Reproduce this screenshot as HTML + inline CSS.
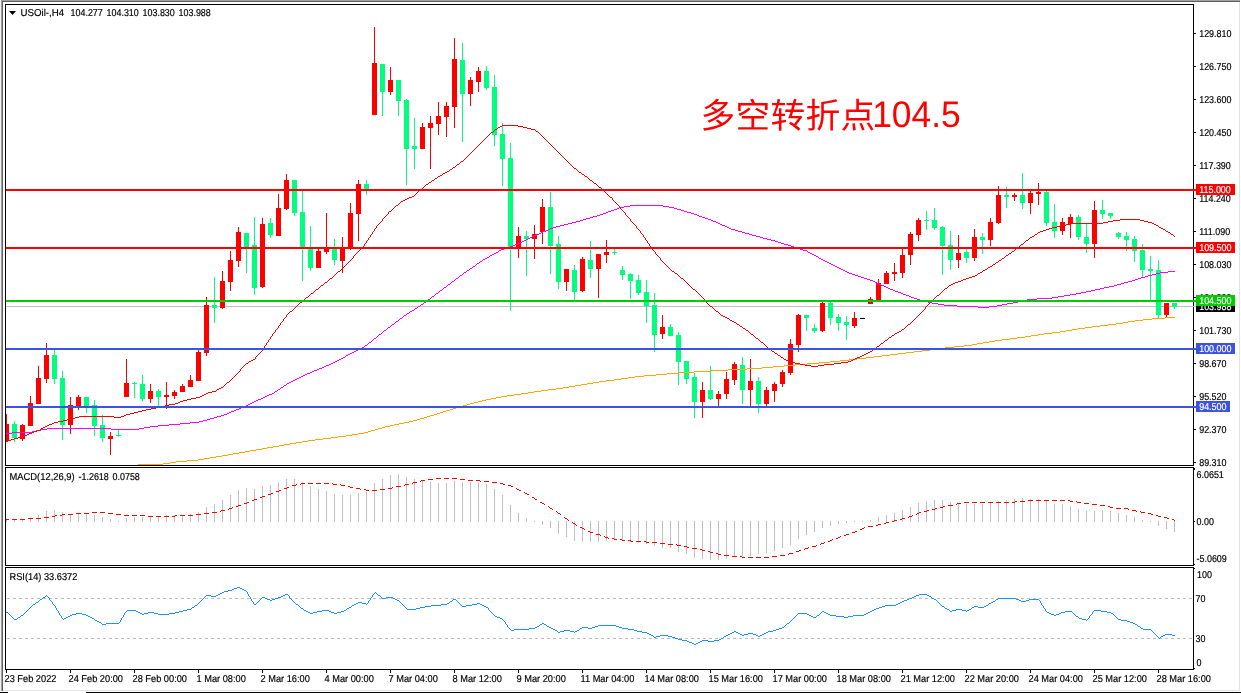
<!DOCTYPE html><html><head><meta charset="utf-8"><title>USOil H4</title><style>html,body{margin:0;padding:0;background:#fff;overflow:hidden}svg{display:block;will-change:transform}text{font-family:"Liberation Sans",sans-serif;text-rendering:geometricPrecision}</style></head><body>
<svg width="1241" height="693" viewBox="0 0 1241 693">
<rect width="1241" height="693" fill="#fff"/>
<g shape-rendering="crispEdges">
<rect x="0" y="0" width="1240" height="1" fill="#a0a0a0"/>
<rect x="1" y="1" width="1239" height="1" fill="#606060"/>
<rect x="0" y="0" width="1" height="691" fill="#f0f0f0"/>
<rect x="1" y="1" width="1" height="690" fill="#a0a0a0"/>
<rect x="2" y="1" width="1" height="690" fill="#606060"/>
<rect x="1239" y="2" width="1" height="689" fill="#e3e3e3"/>
<rect x="3" y="690" width="1237" height="1" fill="#e3e3e3"/>
<rect x="0" y="692" width="8" height="1" fill="#000"/>
<rect x="86" y="692" width="1155" height="1" fill="#000"/>
<rect x="5" y="4" width="1189" height="1" fill="#000"/>
<rect x="5" y="465" width="1189" height="1" fill="#000"/>
<rect x="5" y="4" width="1" height="462" fill="#000"/>
<rect x="1193" y="4" width="1" height="462" fill="#000"/>
<rect x="5" y="467" width="1189" height="1" fill="#000"/>
<rect x="5" y="565" width="1189" height="1" fill="#000"/>
<rect x="5" y="467" width="1" height="99" fill="#000"/>
<rect x="1193" y="467" width="1" height="99" fill="#000"/>
<rect x="5" y="567" width="1189" height="1" fill="#000"/>
<rect x="5" y="669" width="1189" height="1" fill="#000"/>
<rect x="5" y="567" width="1" height="103" fill="#000"/>
<rect x="1193" y="567" width="1" height="103" fill="#000"/>
<rect x="6" y="306" width="1190" height="1" fill="#c0c0c0"/>
<clipPath id="cm"><rect x="6" y="5" width="1187" height="460"/></clipPath>
<g clip-path="url(#cm)">
<rect x="6" y="414" width="1" height="27" fill="#ff0000"/>
<rect x="4" y="424" width="5" height="17" fill="#ff0000"/>
<rect x="14" y="421" width="1" height="21" fill="#00ff7f"/>
<rect x="12" y="424" width="5" height="14" fill="#00ff7f"/>
<rect x="22" y="424" width="1" height="17" fill="#ff0000"/>
<rect x="20" y="425" width="5" height="14" fill="#ff0000"/>
<rect x="30" y="396" width="1" height="30" fill="#ff0000"/>
<rect x="28" y="403" width="5" height="23" fill="#ff0000"/>
<rect x="38" y="366" width="1" height="38" fill="#ff0000"/>
<rect x="36" y="378" width="5" height="26" fill="#ff0000"/>
<rect x="46" y="343" width="1" height="40" fill="#ff0000"/>
<rect x="44" y="355" width="5" height="24" fill="#ff0000"/>
<rect x="54" y="350" width="1" height="34" fill="#00ff7f"/>
<rect x="52" y="355" width="5" height="24" fill="#00ff7f"/>
<rect x="62" y="371" width="1" height="69" fill="#00ff7f"/>
<rect x="60" y="378" width="5" height="47" fill="#00ff7f"/>
<rect x="70" y="397" width="1" height="37" fill="#ff0000"/>
<rect x="68" y="405" width="5" height="20" fill="#ff0000"/>
<rect x="78" y="395" width="1" height="15" fill="#ff0000"/>
<rect x="76" y="397" width="5" height="9" fill="#ff0000"/>
<rect x="86" y="397" width="1" height="16" fill="#00ff7f"/>
<rect x="84" y="397" width="5" height="9" fill="#00ff7f"/>
<rect x="94" y="400" width="1" height="36" fill="#00ff7f"/>
<rect x="92" y="405" width="5" height="21" fill="#00ff7f"/>
<rect x="102" y="415" width="1" height="27" fill="#00ff7f"/>
<rect x="100" y="425" width="5" height="13" fill="#00ff7f"/>
<rect x="110" y="432" width="1" height="23" fill="#ff0000"/>
<rect x="108" y="436" width="5" height="3" fill="#ff0000"/>
<rect x="118" y="430" width="1" height="7" fill="#00ff7f"/>
<rect x="116" y="435" width="5" height="1" fill="#00ff7f"/>
<rect x="126" y="359" width="1" height="38" fill="#ff0000"/>
<rect x="124" y="383" width="5" height="14" fill="#ff0000"/>
<rect x="134" y="382" width="1" height="16" fill="#00ff7f"/>
<rect x="132" y="383" width="5" height="1" fill="#00ff7f"/>
<rect x="142" y="375" width="1" height="26" fill="#00ff7f"/>
<rect x="140" y="384" width="5" height="15" fill="#00ff7f"/>
<rect x="150" y="384" width="1" height="19" fill="#ff0000"/>
<rect x="148" y="391" width="5" height="8" fill="#ff0000"/>
<rect x="158" y="389" width="1" height="17" fill="#00ff7f"/>
<rect x="156" y="391" width="5" height="6" fill="#00ff7f"/>
<rect x="166" y="382" width="1" height="27" fill="#ff0000"/>
<rect x="164" y="395" width="5" height="2" fill="#ff0000"/>
<rect x="174" y="390" width="1" height="9" fill="#ff0000"/>
<rect x="172" y="392" width="5" height="4" fill="#ff0000"/>
<rect x="182" y="384" width="1" height="8" fill="#ff0000"/>
<rect x="180" y="386" width="5" height="6" fill="#ff0000"/>
<rect x="190" y="375" width="1" height="12" fill="#ff0000"/>
<rect x="188" y="380" width="5" height="7" fill="#ff0000"/>
<rect x="198" y="350" width="1" height="31" fill="#ff0000"/>
<rect x="196" y="352" width="5" height="29" fill="#ff0000"/>
<rect x="206" y="297" width="1" height="59" fill="#ff0000"/>
<rect x="204" y="305" width="5" height="48" fill="#ff0000"/>
<rect x="214" y="277" width="1" height="46" fill="#00ff7f"/>
<rect x="212" y="305" width="5" height="3" fill="#00ff7f"/>
<rect x="222" y="271" width="1" height="38" fill="#ff0000"/>
<rect x="220" y="281" width="5" height="27" fill="#ff0000"/>
<rect x="230" y="251" width="1" height="40" fill="#ff0000"/>
<rect x="228" y="260" width="5" height="22" fill="#ff0000"/>
<rect x="238" y="227" width="1" height="40" fill="#ff0000"/>
<rect x="236" y="232" width="5" height="29" fill="#ff0000"/>
<rect x="246" y="233" width="1" height="40" fill="#00ff7f"/>
<rect x="244" y="233" width="5" height="14" fill="#00ff7f"/>
<rect x="254" y="217" width="1" height="78" fill="#00ff7f"/>
<rect x="252" y="245" width="5" height="43" fill="#00ff7f"/>
<rect x="262" y="218" width="1" height="70" fill="#ff0000"/>
<rect x="260" y="224" width="5" height="63" fill="#ff0000"/>
<rect x="270" y="218" width="1" height="20" fill="#00ff7f"/>
<rect x="268" y="223" width="5" height="12" fill="#00ff7f"/>
<rect x="278" y="194" width="1" height="42" fill="#ff0000"/>
<rect x="276" y="208" width="5" height="28" fill="#ff0000"/>
<rect x="286" y="174" width="1" height="36" fill="#ff0000"/>
<rect x="284" y="180" width="5" height="29" fill="#ff0000"/>
<rect x="294" y="180" width="1" height="36" fill="#00ff7f"/>
<rect x="292" y="180" width="5" height="33" fill="#00ff7f"/>
<rect x="302" y="191" width="1" height="90" fill="#00ff7f"/>
<rect x="300" y="212" width="5" height="35" fill="#00ff7f"/>
<rect x="310" y="226" width="1" height="45" fill="#00ff7f"/>
<rect x="308" y="249" width="5" height="19" fill="#00ff7f"/>
<rect x="318" y="249" width="1" height="19" fill="#ff0000"/>
<rect x="316" y="251" width="5" height="17" fill="#ff0000"/>
<rect x="326" y="213" width="1" height="41" fill="#ff0000"/>
<rect x="324" y="249" width="5" height="3" fill="#ff0000"/>
<rect x="334" y="239" width="1" height="26" fill="#00ff7f"/>
<rect x="332" y="249" width="5" height="11" fill="#00ff7f"/>
<rect x="342" y="237" width="1" height="36" fill="#ff0000"/>
<rect x="340" y="248" width="5" height="13" fill="#ff0000"/>
<rect x="350" y="203" width="1" height="47" fill="#ff0000"/>
<rect x="348" y="213" width="5" height="36" fill="#ff0000"/>
<rect x="358" y="180" width="1" height="61" fill="#ff0000"/>
<rect x="356" y="184" width="5" height="30" fill="#ff0000"/>
<rect x="366" y="180" width="1" height="15" fill="#00ff7f"/>
<rect x="364" y="184" width="5" height="7" fill="#00ff7f"/>
<rect x="374" y="27" width="1" height="88" fill="#ff0000"/>
<rect x="372" y="63" width="5" height="52" fill="#ff0000"/>
<rect x="382" y="64" width="1" height="52" fill="#00ff7f"/>
<rect x="380" y="64" width="5" height="28" fill="#00ff7f"/>
<rect x="390" y="67" width="1" height="28" fill="#ff0000"/>
<rect x="388" y="80" width="5" height="12" fill="#ff0000"/>
<rect x="398" y="80" width="1" height="36" fill="#00ff7f"/>
<rect x="396" y="80" width="5" height="21" fill="#00ff7f"/>
<rect x="406" y="99" width="1" height="86" fill="#00ff7f"/>
<rect x="404" y="100" width="5" height="49" fill="#00ff7f"/>
<rect x="414" y="118" width="1" height="51" fill="#00ff7f"/>
<rect x="412" y="146" width="5" height="3" fill="#00ff7f"/>
<rect x="422" y="123" width="1" height="26" fill="#ff0000"/>
<rect x="420" y="127" width="5" height="22" fill="#ff0000"/>
<rect x="430" y="116" width="1" height="53" fill="#ff0000"/>
<rect x="428" y="123" width="5" height="5" fill="#ff0000"/>
<rect x="438" y="102" width="1" height="33" fill="#ff0000"/>
<rect x="436" y="116" width="5" height="8" fill="#ff0000"/>
<rect x="446" y="102" width="1" height="35" fill="#ff0000"/>
<rect x="444" y="106" width="5" height="11" fill="#ff0000"/>
<rect x="454" y="38" width="1" height="90" fill="#ff0000"/>
<rect x="452" y="59" width="5" height="48" fill="#ff0000"/>
<rect x="462" y="43" width="1" height="99" fill="#00ff7f"/>
<rect x="460" y="60" width="5" height="34" fill="#00ff7f"/>
<rect x="470" y="77" width="1" height="29" fill="#ff0000"/>
<rect x="468" y="80" width="5" height="14" fill="#ff0000"/>
<rect x="478" y="67" width="1" height="25" fill="#ff0000"/>
<rect x="476" y="71" width="5" height="11" fill="#ff0000"/>
<rect x="486" y="66" width="1" height="24" fill="#00ff7f"/>
<rect x="484" y="71" width="5" height="17" fill="#00ff7f"/>
<rect x="494" y="75" width="1" height="71" fill="#00ff7f"/>
<rect x="492" y="87" width="5" height="48" fill="#00ff7f"/>
<rect x="502" y="123" width="1" height="63" fill="#00ff7f"/>
<rect x="500" y="134" width="5" height="25" fill="#00ff7f"/>
<rect x="510" y="143" width="1" height="168" fill="#00ff7f"/>
<rect x="508" y="158" width="5" height="89" fill="#00ff7f"/>
<rect x="518" y="227" width="1" height="31" fill="#ff0000"/>
<rect x="516" y="236" width="5" height="11" fill="#ff0000"/>
<rect x="526" y="231" width="1" height="45" fill="#00ff7f"/>
<rect x="524" y="236" width="5" height="3" fill="#00ff7f"/>
<rect x="534" y="225" width="1" height="34" fill="#ff0000"/>
<rect x="532" y="234" width="5" height="5" fill="#ff0000"/>
<rect x="542" y="199" width="1" height="45" fill="#ff0000"/>
<rect x="540" y="207" width="5" height="25" fill="#ff0000"/>
<rect x="550" y="192" width="1" height="82" fill="#00ff7f"/>
<rect x="548" y="207" width="5" height="39" fill="#00ff7f"/>
<rect x="558" y="236" width="1" height="53" fill="#00ff7f"/>
<rect x="556" y="244" width="5" height="38" fill="#00ff7f"/>
<rect x="566" y="269" width="1" height="22" fill="#ff0000"/>
<rect x="564" y="269" width="5" height="13" fill="#ff0000"/>
<rect x="574" y="265" width="1" height="35" fill="#00ff7f"/>
<rect x="572" y="270" width="5" height="22" fill="#00ff7f"/>
<rect x="582" y="257" width="1" height="35" fill="#ff0000"/>
<rect x="580" y="259" width="5" height="32" fill="#ff0000"/>
<rect x="590" y="241" width="1" height="37" fill="#00ff7f"/>
<rect x="588" y="260" width="5" height="9" fill="#00ff7f"/>
<rect x="598" y="254" width="1" height="44" fill="#ff0000"/>
<rect x="596" y="254" width="5" height="15" fill="#ff0000"/>
<rect x="606" y="240" width="1" height="23" fill="#ff0000"/>
<rect x="604" y="252" width="5" height="3" fill="#ff0000"/>
<rect x="614" y="249" width="1" height="6" fill="#00ff7f"/>
<rect x="612" y="252" width="5" height="1" fill="#00ff7f"/>
<rect x="622" y="266" width="1" height="14" fill="#00ff7f"/>
<rect x="620" y="270" width="5" height="5" fill="#00ff7f"/>
<rect x="630" y="273" width="1" height="26" fill="#00ff7f"/>
<rect x="628" y="274" width="5" height="7" fill="#00ff7f"/>
<rect x="638" y="275" width="1" height="20" fill="#00ff7f"/>
<rect x="636" y="280" width="5" height="13" fill="#00ff7f"/>
<rect x="646" y="280" width="1" height="43" fill="#00ff7f"/>
<rect x="644" y="292" width="5" height="14" fill="#00ff7f"/>
<rect x="654" y="293" width="1" height="59" fill="#00ff7f"/>
<rect x="652" y="305" width="5" height="30" fill="#00ff7f"/>
<rect x="662" y="315" width="1" height="24" fill="#ff0000"/>
<rect x="660" y="327" width="5" height="7" fill="#ff0000"/>
<rect x="670" y="324" width="1" height="12" fill="#00ff7f"/>
<rect x="668" y="327" width="5" height="9" fill="#00ff7f"/>
<rect x="678" y="332" width="1" height="53" fill="#00ff7f"/>
<rect x="676" y="335" width="5" height="27" fill="#00ff7f"/>
<rect x="686" y="361" width="1" height="23" fill="#00ff7f"/>
<rect x="684" y="361" width="5" height="18" fill="#00ff7f"/>
<rect x="694" y="373" width="1" height="45" fill="#00ff7f"/>
<rect x="692" y="377" width="5" height="25" fill="#00ff7f"/>
<rect x="702" y="382" width="1" height="36" fill="#ff0000"/>
<rect x="700" y="390" width="5" height="12" fill="#ff0000"/>
<rect x="710" y="366" width="1" height="34" fill="#00ff7f"/>
<rect x="708" y="390" width="5" height="9" fill="#00ff7f"/>
<rect x="718" y="391" width="1" height="15" fill="#ff0000"/>
<rect x="716" y="394" width="5" height="5" fill="#ff0000"/>
<rect x="726" y="372" width="1" height="27" fill="#ff0000"/>
<rect x="724" y="379" width="5" height="15" fill="#ff0000"/>
<rect x="734" y="362" width="1" height="23" fill="#ff0000"/>
<rect x="732" y="364" width="5" height="16" fill="#ff0000"/>
<rect x="742" y="357" width="1" height="47" fill="#00ff7f"/>
<rect x="740" y="365" width="5" height="25" fill="#00ff7f"/>
<rect x="750" y="359" width="1" height="48" fill="#ff0000"/>
<rect x="748" y="381" width="5" height="9" fill="#ff0000"/>
<rect x="758" y="377" width="1" height="36" fill="#00ff7f"/>
<rect x="756" y="381" width="5" height="23" fill="#00ff7f"/>
<rect x="766" y="387" width="1" height="19" fill="#ff0000"/>
<rect x="764" y="390" width="5" height="14" fill="#ff0000"/>
<rect x="774" y="382" width="1" height="20" fill="#ff0000"/>
<rect x="772" y="384" width="5" height="7" fill="#ff0000"/>
<rect x="782" y="370" width="1" height="17" fill="#ff0000"/>
<rect x="780" y="372" width="5" height="12" fill="#ff0000"/>
<rect x="790" y="339" width="1" height="36" fill="#ff0000"/>
<rect x="788" y="344" width="5" height="29" fill="#ff0000"/>
<rect x="798" y="314" width="1" height="38" fill="#ff0000"/>
<rect x="796" y="315" width="5" height="30" fill="#ff0000"/>
<rect x="806" y="315" width="1" height="16" fill="#00ff7f"/>
<rect x="804" y="315" width="5" height="3" fill="#00ff7f"/>
<rect x="814" y="324" width="1" height="9" fill="#00ff7f"/>
<rect x="812" y="328" width="5" height="3" fill="#00ff7f"/>
<rect x="822" y="302" width="1" height="30" fill="#ff0000"/>
<rect x="820" y="303" width="5" height="28" fill="#ff0000"/>
<rect x="830" y="302" width="1" height="23" fill="#00ff7f"/>
<rect x="828" y="303" width="5" height="15" fill="#00ff7f"/>
<rect x="838" y="314" width="1" height="17" fill="#00ff7f"/>
<rect x="836" y="317" width="5" height="6" fill="#00ff7f"/>
<rect x="846" y="316" width="1" height="24" fill="#00ff7f"/>
<rect x="844" y="322" width="5" height="3" fill="#00ff7f"/>
<rect x="854" y="312" width="1" height="16" fill="#ff0000"/>
<rect x="852" y="318" width="5" height="8" fill="#ff0000"/>
<rect x="862" y="318" width="1" height="1" fill="#000000"/>
<rect x="860" y="318" width="5" height="1" fill="#000000"/>
<rect x="870" y="297" width="1" height="7" fill="#ff0000"/>
<rect x="868" y="299" width="5" height="5" fill="#ff0000"/>
<rect x="878" y="279" width="1" height="21" fill="#ff0000"/>
<rect x="876" y="283" width="5" height="17" fill="#ff0000"/>
<rect x="886" y="271" width="1" height="13" fill="#ff0000"/>
<rect x="884" y="273" width="5" height="11" fill="#ff0000"/>
<rect x="894" y="263" width="1" height="18" fill="#ff0000"/>
<rect x="892" y="272" width="5" height="2" fill="#ff0000"/>
<rect x="902" y="248" width="1" height="30" fill="#ff0000"/>
<rect x="900" y="255" width="5" height="18" fill="#ff0000"/>
<rect x="910" y="232" width="1" height="33" fill="#ff0000"/>
<rect x="908" y="234" width="5" height="21" fill="#ff0000"/>
<rect x="918" y="218" width="1" height="23" fill="#ff0000"/>
<rect x="916" y="220" width="5" height="15" fill="#ff0000"/>
<rect x="926" y="211" width="1" height="19" fill="#00ff7f"/>
<rect x="924" y="220" width="5" height="1" fill="#00ff7f"/>
<rect x="934" y="208" width="1" height="22" fill="#00ff7f"/>
<rect x="932" y="220" width="5" height="8" fill="#00ff7f"/>
<rect x="942" y="226" width="1" height="49" fill="#00ff7f"/>
<rect x="940" y="227" width="5" height="19" fill="#00ff7f"/>
<rect x="950" y="231" width="1" height="39" fill="#00ff7f"/>
<rect x="948" y="245" width="5" height="15" fill="#00ff7f"/>
<rect x="958" y="235" width="1" height="33" fill="#ff0000"/>
<rect x="956" y="253" width="5" height="7" fill="#ff0000"/>
<rect x="966" y="249" width="1" height="14" fill="#00ff7f"/>
<rect x="964" y="252" width="5" height="6" fill="#00ff7f"/>
<rect x="974" y="229" width="1" height="32" fill="#ff0000"/>
<rect x="972" y="237" width="5" height="21" fill="#ff0000"/>
<rect x="982" y="233" width="1" height="21" fill="#00ff7f"/>
<rect x="980" y="237" width="5" height="3" fill="#00ff7f"/>
<rect x="990" y="218" width="1" height="28" fill="#ff0000"/>
<rect x="988" y="222" width="5" height="18" fill="#ff0000"/>
<rect x="998" y="186" width="1" height="38" fill="#ff0000"/>
<rect x="996" y="195" width="5" height="28" fill="#ff0000"/>
<rect x="1006" y="187" width="1" height="21" fill="#00ff7f"/>
<rect x="1004" y="195" width="5" height="2" fill="#00ff7f"/>
<rect x="1014" y="193" width="1" height="8" fill="#ff0000"/>
<rect x="1012" y="195" width="5" height="2" fill="#ff0000"/>
<rect x="1022" y="173" width="1" height="36" fill="#00ff7f"/>
<rect x="1020" y="195" width="5" height="8" fill="#00ff7f"/>
<rect x="1030" y="190" width="1" height="24" fill="#ff0000"/>
<rect x="1028" y="193" width="5" height="10" fill="#ff0000"/>
<rect x="1038" y="183" width="1" height="22" fill="#ff0000"/>
<rect x="1036" y="192" width="5" height="2" fill="#ff0000"/>
<rect x="1046" y="190" width="1" height="36" fill="#00ff7f"/>
<rect x="1044" y="192" width="5" height="31" fill="#00ff7f"/>
<rect x="1054" y="204" width="1" height="34" fill="#00ff7f"/>
<rect x="1052" y="222" width="5" height="9" fill="#00ff7f"/>
<rect x="1062" y="218" width="1" height="17" fill="#ff0000"/>
<rect x="1060" y="222" width="5" height="9" fill="#ff0000"/>
<rect x="1070" y="214" width="1" height="24" fill="#ff0000"/>
<rect x="1068" y="217" width="5" height="7" fill="#ff0000"/>
<rect x="1078" y="215" width="1" height="25" fill="#00ff7f"/>
<rect x="1076" y="217" width="5" height="20" fill="#00ff7f"/>
<rect x="1086" y="223" width="1" height="30" fill="#00ff7f"/>
<rect x="1084" y="237" width="5" height="7" fill="#00ff7f"/>
<rect x="1094" y="201" width="1" height="57" fill="#ff0000"/>
<rect x="1092" y="210" width="5" height="34" fill="#ff0000"/>
<rect x="1102" y="200" width="1" height="19" fill="#00ff7f"/>
<rect x="1100" y="210" width="5" height="4" fill="#00ff7f"/>
<rect x="1110" y="213" width="1" height="6" fill="#00ff7f"/>
<rect x="1108" y="213" width="5" height="3" fill="#00ff7f"/>
<rect x="1118" y="232" width="1" height="7" fill="#00ff7f"/>
<rect x="1116" y="233" width="5" height="4" fill="#00ff7f"/>
<rect x="1126" y="232" width="1" height="19" fill="#00ff7f"/>
<rect x="1124" y="236" width="5" height="4" fill="#00ff7f"/>
<rect x="1134" y="236" width="1" height="26" fill="#00ff7f"/>
<rect x="1132" y="239" width="5" height="12" fill="#00ff7f"/>
<rect x="1142" y="244" width="1" height="33" fill="#00ff7f"/>
<rect x="1140" y="250" width="5" height="20" fill="#00ff7f"/>
<rect x="1150" y="256" width="1" height="44" fill="#00ff7f"/>
<rect x="1148" y="269" width="5" height="2" fill="#00ff7f"/>
<rect x="1158" y="260" width="1" height="59" fill="#00ff7f"/>
<rect x="1156" y="270" width="5" height="45" fill="#00ff7f"/>
<rect x="1166" y="303" width="1" height="15" fill="#ff0000"/>
<rect x="1164" y="303" width="5" height="12" fill="#ff0000"/>
<rect x="1174" y="303" width="1" height="6" fill="#00ff7f"/>
<rect x="1172" y="303" width="5" height="4" fill="#00ff7f"/>
</g>
</g>
<g clip-path="url(#cm)" shape-rendering="crispEdges">
<path d="M137 465h1v1h-1zM138 464h25v1h-25zM163 463h7v1h-7zM170 462h6v1h-6zM176 461h11v1h-11zM187 460h11v1h-11zM198 459h6v1h-6zM204 458h6v1h-6zM210 457h6v1h-6zM216 456h6v1h-6zM222 455h6v1h-6zM228 454h5v1h-5zM233 453h6v1h-6zM239 452h6v1h-6zM245 451h5v1h-5zM250 450h6v1h-6zM256 449h6v1h-6zM262 448h5v1h-5zM267 447h6v1h-6zM273 446h6v1h-6zM279 445h5v1h-5zM284 444h6v1h-6zM290 443h6v1h-6zM296 442h6v1h-6zM302 441h6v1h-6zM308 440h7v1h-7zM315 439h8v1h-8zM323 438h8v1h-8zM331 437h7v1h-7zM338 436h8v1h-8zM346 435h6v1h-6zM352 434h6v1h-6zM358 433h6v1h-6zM364 432h4v1h-4zM368 431h3v1h-3zM371 430h4v1h-4zM375 429h3v1h-3zM378 428h4v1h-4zM382 427h3v1h-3zM385 426h5v1h-5zM390 425h4v1h-4zM394 424h5v1h-5zM399 423h5v1h-5zM404 422h5v1h-5zM409 421h4v1h-4zM413 420h4v1h-4zM417 419h3v1h-3zM420 418h4v1h-4zM424 417h3v1h-3zM427 416h3v1h-3zM430 415h4v1h-4zM434 414h3v1h-3zM437 413h3v1h-3zM440 412h3v1h-3zM443 411h3v1h-3zM446 410h4v1h-4zM450 409h3v1h-3zM453 408h3v1h-3zM456 407h3v1h-3zM459 406h4v1h-4zM463 405h4v1h-4zM467 404h3v1h-3zM470 403h4v1h-4zM474 402h4v1h-4zM478 401h4v1h-4zM482 400h4v1h-4zM486 399h5v1h-5zM491 398h5v1h-5zM496 397h5v1h-5zM501 396h6v1h-6zM507 395h7v1h-7zM514 394h7v1h-7zM521 393h7v1h-7zM528 392h6v1h-6zM534 391h7v1h-7zM541 390h7v1h-7zM548 389h8v1h-8zM556 388h7v1h-7zM563 387h6v1h-6zM569 386h6v1h-6zM575 385h6v1h-6zM581 384h6v1h-6zM587 383h6v1h-6zM593 382h6v1h-6zM599 381h7v1h-7zM606 380h8v1h-8zM614 379h7v1h-7zM621 378h7v1h-7zM628 377h7v1h-7zM635 376h9v1h-9zM644 375h12v1h-12zM656 374h11v1h-11zM667 373h11v1h-11zM678 372h16v1h-16zM694 371h16v1h-16zM710 370h18v1h-18zM728 369h19v1h-19zM747 368h15v1h-15zM762 367h11v1h-11zM773 366h11v1h-11zM784 365h11v1h-11zM795 364h12v1h-12zM807 363h12v1h-12zM819 362h11v1h-11zM830 361h10v1h-10zM840 360h9v1h-9zM849 359h8v1h-8zM857 358h9v1h-9zM866 357h8v1h-8zM874 356h8v1h-8zM882 355h8v1h-8zM890 354h8v1h-8zM898 353h8v1h-8zM906 352h8v1h-8zM914 351h8v1h-8zM922 350h8v1h-8zM930 349h7v1h-7zM937 348h8v1h-8zM945 347h9v1h-9zM954 346h10v1h-10zM964 345h8v1h-8zM972 344h5v1h-5zM977 343h6v1h-6zM983 342h6v1h-6zM989 341h6v1h-6zM995 340h7v1h-7zM1002 339h8v1h-8zM1010 338h7v1h-7zM1017 337h8v1h-8zM1025 336h6v1h-6zM1031 335h7v1h-7zM1038 334h6v1h-6zM1044 333h8v1h-8zM1052 332h8v1h-8zM1060 331h6v1h-6zM1066 330h6v1h-6zM1072 329h6v1h-6zM1078 328h7v1h-7zM1085 327h7v1h-7zM1092 326h8v1h-8zM1100 325h8v1h-8zM1108 324h8v1h-8zM1116 323h7v1h-7zM1123 322h5v1h-5zM1128 321h7v1h-7zM1135 320h8v1h-8zM1143 319h9v1h-9zM1152 318h13v1h-13zM1165 317h10v1h-10z" fill="#ffa500" />
<path d="M6 433h6v1h-6zM12 432h20v1h-20zM32 431h4v1h-4zM36 430h5v1h-5zM41 429h6v1h-6zM47 428h64v1h-64zM111 429h28v1h-28zM139 428h5v1h-5zM144 427h6v1h-6zM150 426h8v1h-8zM158 425h11v1h-11zM169 424h11v1h-11zM180 423h10v1h-10zM190 422h9v1h-9zM199 421h4v1h-4zM203 420h4v1h-4zM207 419h3v1h-3zM210 418h4v1h-4zM214 417h3v1h-3zM217 416h4v1h-4zM221 415h3v1h-3zM224 414h3v1h-3zM227 413h2v1h-2zM229 412h2v1h-2zM231 411h3v1h-3zM234 410h2v1h-2zM236 409h3v1h-3zM239 408h2v1h-2zM241 407h2v1h-2zM243 406h3v1h-3zM246 405h2v1h-2zM248 404h2v1h-2zM250 403h2v1h-2zM252 402h2v1h-2zM254 401h2v1h-2zM256 400h2v1h-2zM258 399h3v1h-3zM261 398h2v1h-2zM263 397h2v1h-2zM265 396h2v1h-2zM267 395h2v1h-2zM269 394h3v1h-3zM272 393h2v1h-2zM274 392h1v1h-1zM275 391h2v1h-2zM277 390h1v1h-1zM278 389h2v1h-2zM280 388h1v1h-1zM281 387h2v1h-2zM283 386h1v1h-1zM284 385h2v1h-2zM286 384h1v1h-1zM287 383h2v1h-2zM289 382h2v1h-2zM291 381h2v1h-2zM293 380h2v1h-2zM295 379h2v1h-2zM297 378h2v1h-2zM299 377h2v1h-2zM301 376h2v1h-2zM303 375h2v1h-2zM305 374h2v1h-2zM307 373h3v1h-3zM310 372h2v1h-2zM312 371h2v1h-2zM314 370h3v1h-3zM317 369h2v1h-2zM319 368h3v1h-3zM322 367h2v1h-2zM324 366h2v1h-2zM326 365h3v1h-3zM329 364h2v1h-2zM331 363h2v1h-2zM333 362h2v1h-2zM335 361h2v1h-2zM337 360h2v1h-2zM339 359h2v1h-2zM341 358h2v1h-2zM343 357h2v1h-2zM345 356h1v1h-1zM346 355h2v1h-2zM348 354h2v1h-2zM350 353h2v1h-2zM352 352h2v1h-2zM354 351h2v1h-2zM356 350h2v1h-2zM358 349h2v1h-2zM360 348h2v1h-2zM362 347h2v1h-2zM364 346h1v1h-1zM365 345h2v1h-2zM367 344h1v1h-1zM368 343h1v1h-1zM369 342h2v1h-2zM371 341h1v1h-1zM372 340h1v1h-1zM373 339h1v1h-1zM374 338h2v1h-2zM376 337h1v1h-1zM377 336h1v1h-1zM378 335h1v1h-1zM379 334h2v1h-2zM381 333h1v1h-1zM382 332h1v1h-1zM383 331h1v1h-1zM384 330h2v1h-2zM386 329h1v1h-1zM387 328h1v1h-1zM388 327h2v1h-2zM390 326h1v1h-1zM391 325h1v1h-1zM392 324h2v1h-2zM394 323h1v1h-1zM395 322h1v1h-1zM396 321h2v1h-2zM398 320h1v1h-1zM399 319h1v1h-1zM400 318h2v1h-2zM402 317h1v1h-1zM403 316h1v1h-1zM404 315h2v1h-2zM406 314h1v1h-1zM407 313h2v1h-2zM409 312h1v1h-1zM410 311h2v1h-2zM412 310h2v1h-2zM414 309h1v1h-1zM415 308h2v1h-2zM417 307h1v1h-1zM418 306h2v1h-2zM420 305h1v1h-1zM421 304h2v1h-2zM423 303h1v1h-1zM424 302h2v1h-2zM426 301h1v1h-1zM427 300h1v1h-1zM428 299h2v1h-2zM430 298h1v1h-1zM431 297h1v1h-1zM432 296h2v1h-2zM434 295h1v1h-1zM435 294h1v1h-1zM436 293h2v1h-2zM438 292h1v1h-1zM439 291h1v1h-1zM440 290h2v1h-2zM442 289h1v1h-1zM443 288h1v1h-1zM444 287h2v1h-2zM446 286h1v1h-1zM447 285h1v1h-1zM448 284h2v1h-2zM450 283h1v1h-1zM451 282h1v1h-1zM452 281h2v1h-2zM454 280h1v1h-1zM455 279h1v1h-1zM456 278h2v1h-2zM458 277h1v1h-1zM459 276h1v1h-1zM460 275h2v1h-2zM462 274h1v1h-1zM463 273h1v1h-1zM464 272h2v1h-2zM466 271h1v1h-1zM467 270h2v1h-2zM469 269h1v1h-1zM470 268h2v1h-2zM472 267h1v1h-1zM473 266h2v1h-2zM475 265h1v1h-1zM476 264h1v1h-1zM477 263h2v1h-2zM479 262h1v1h-1zM480 261h2v1h-2zM482 260h1v1h-1zM483 259h2v1h-2zM485 258h2v1h-2zM487 257h2v1h-2zM489 256h1v1h-1zM490 255h2v1h-2zM492 254h2v1h-2zM494 253h2v1h-2zM496 252h2v1h-2zM498 251h1v1h-1zM499 250h2v1h-2zM501 249h3v1h-3zM504 248h3v1h-3zM507 247h3v1h-3zM510 246h3v1h-3zM513 245h2v1h-2zM515 244h3v1h-3zM518 243h2v1h-2zM520 242h2v1h-2zM522 241h2v1h-2zM524 240h2v1h-2zM526 239h2v1h-2zM528 238h2v1h-2zM530 237h2v1h-2zM532 236h2v1h-2zM534 235h3v1h-3zM537 234h2v1h-2zM539 233h2v1h-2zM541 232h2v1h-2zM543 231h3v1h-3zM546 230h2v1h-2zM548 229h2v1h-2zM550 228h3v1h-3zM553 227h3v1h-3zM556 226h4v1h-4zM560 225h4v1h-4zM564 224h4v1h-4zM568 223h4v1h-4zM572 222h4v1h-4zM576 221h4v1h-4zM580 220h3v1h-3zM583 219h3v1h-3zM586 218h4v1h-4zM590 217h3v1h-3zM593 216h4v1h-4zM597 215h3v1h-3zM600 214h3v1h-3zM603 213h3v1h-3zM606 212h2v1h-2zM608 211h3v1h-3zM611 210h3v1h-3zM614 209h3v1h-3zM617 208h2v1h-2zM619 207h5v1h-5zM624 206h6v1h-6zM630 205h33v1h-33zM663 206h6v1h-6zM669 207h5v1h-5zM674 208h3v1h-3zM677 209h4v1h-4zM681 210h3v1h-3zM684 211h3v1h-3zM687 212h4v1h-4zM691 213h3v1h-3zM694 214h3v1h-3zM697 215h2v1h-2zM699 216h3v1h-3zM702 217h3v1h-3zM705 218h3v1h-3zM708 219h3v1h-3zM711 220h2v1h-2zM713 221h3v1h-3zM716 222h2v1h-2zM718 223h2v1h-2zM720 224h2v1h-2zM722 225h3v1h-3zM725 226h2v1h-2zM727 227h2v1h-2zM729 228h2v1h-2zM731 229h4v1h-4zM735 230h3v1h-3zM738 231h4v1h-4zM742 232h3v1h-3zM745 233h4v1h-4zM749 234h3v1h-3zM752 235h4v1h-4zM756 236h4v1h-4zM760 237h3v1h-3zM763 238h4v1h-4zM767 239h4v1h-4zM771 240h4v1h-4zM775 241h3v1h-3zM778 242h3v1h-3zM781 243h3v1h-3zM784 244h4v1h-4zM788 245h3v1h-3zM791 246h3v1h-3zM794 247h3v1h-3zM797 248h3v1h-3zM800 249h3v1h-3zM803 250h4v1h-4zM807 251h1v1h-1zM808 252h2v1h-2zM810 253h2v1h-2zM812 254h2v1h-2zM814 255h2v1h-2zM816 256h2v1h-2zM818 257h1v1h-1zM819 258h2v1h-2zM821 259h2v1h-2zM823 260h2v1h-2zM825 261h2v1h-2zM827 262h2v1h-2zM829 263h2v1h-2zM831 264h2v1h-2zM833 265h2v1h-2zM835 266h2v1h-2zM837 267h2v1h-2zM839 268h2v1h-2zM841 269h2v1h-2zM843 270h2v1h-2zM845 271h2v1h-2zM847 272h2v1h-2zM849 273h3v1h-3zM852 274h3v1h-3zM855 275h3v1h-3zM858 276h3v1h-3zM861 277h3v1h-3zM864 278h3v1h-3zM867 279h3v1h-3zM870 280h3v1h-3zM873 281h2v1h-2zM875 282h2v1h-2zM877 283h2v1h-2zM879 284h2v1h-2zM881 285h3v1h-3zM884 286h2v1h-2zM886 287h2v1h-2zM888 288h2v1h-2zM890 289h3v1h-3zM893 290h2v1h-2zM895 291h3v1h-3zM898 292h3v1h-3zM901 293h2v1h-2zM903 294h3v1h-3zM906 295h3v1h-3zM909 296h2v1h-2zM911 297h3v1h-3zM914 298h3v1h-3zM917 299h3v1h-3zM920 300h4v1h-4zM924 301h4v1h-4zM928 302h4v1h-4zM932 303h6v1h-6zM938 304h6v1h-6zM944 305h13v1h-13zM957 306h21v1h-21zM978 307h11v1h-11zM989 306h8v1h-8zM997 305h5v1h-5zM1002 304h5v1h-5zM1007 303h6v1h-6zM1013 302h5v1h-5zM1018 301h5v1h-5zM1023 300h4v1h-4zM1027 299h10v1h-10zM1037 298h15v1h-15zM1052 297h6v1h-6zM1058 296h6v1h-6zM1064 295h6v1h-6zM1070 294h6v1h-6zM1076 293h5v1h-5zM1081 292h5v1h-5zM1086 291h5v1h-5zM1091 290h4v1h-4zM1095 289h5v1h-5zM1100 288h4v1h-4zM1104 287h5v1h-5zM1109 286h5v1h-5zM1114 285h3v1h-3zM1117 284h4v1h-4zM1121 283h3v1h-3zM1124 282h4v1h-4zM1128 281h4v1h-4zM1132 280h3v1h-3zM1135 279h3v1h-3zM1138 278h3v1h-3zM1141 277h4v1h-4zM1145 276h3v1h-3zM1148 275h4v1h-4zM1152 274h4v1h-4zM1156 273h4v1h-4zM1160 272h8v1h-8zM1168 271h7v1h-7z" fill="#ff00ff" />
<path d="M6 441h2v1h-2zM8 440h3v1h-3zM11 439h3v1h-3zM14 438h4v1h-4zM18 437h4v1h-4zM22 436h3v1h-3zM25 435h2v1h-2zM27 434h2v1h-2zM29 433h3v1h-3zM32 432h2v1h-2zM34 431h3v1h-3zM37 430h3v1h-3zM40 429h1v1h-1zM41 428h2v1h-2zM43 427h2v1h-2zM45 426h2v1h-2zM47 425h2v1h-2zM49 424h3v1h-3zM52 423h2v1h-2zM54 422h4v1h-4zM58 421h5v1h-5zM63 420h4v1h-4zM67 419h5v1h-5zM72 418h3v1h-3zM75 417h4v1h-4zM79 416h35v1h-35zM114 417h7v1h-7zM121 416h3v1h-3zM124 415h2v1h-2zM126 414h4v1h-4zM130 413h4v1h-4zM134 412h4v1h-4zM138 411h4v1h-4zM142 410h4v1h-4zM146 409h5v1h-5zM151 408h5v1h-5zM156 407h5v1h-5zM161 406h4v1h-4zM165 405h4v1h-4zM169 404h6v1h-6zM175 403h3v1h-3zM178 402h2v1h-2zM180 401h3v1h-3zM183 400h4v1h-4zM187 399h4v1h-4zM191 398h5v1h-5zM196 397h4v1h-4zM200 396h2v1h-2zM202 395h2v1h-2zM204 394h2v1h-2zM206 393h2v1h-2zM208 392h4v1h-4zM212 391h4v1h-4zM216 390h1v1h-1zM217 389h2v1h-2zM219 388h2v1h-2zM221 387h2v1h-2zM223 386h1v1h-1zM224 385h1v1h-1zM225 384h1v1h-1zM226 383h1v1h-1zM227 382h2v1h-2zM229 381h1v1h-1zM230 380h1v1h-1zM231 379h1v1h-1zM232 378h1v1h-1zM233 377h1v1h-1zM234 376h1v1h-1zM235 375h1v1h-1zM236 374h1v1h-1zM237 373h1v1h-1zM238 372h1v1h-1zM239 371h1v1h-1zM240 369h1v2h-1zM241 368h1v1h-1zM242 367h1v1h-1zM243 366h1v1h-1zM244 365h1v1h-1zM245 364h1v1h-1zM246 363h2v1h-2zM248 362h1v1h-1zM249 361h2v1h-2zM251 360h2v1h-2zM253 359h2v1h-2zM255 357h1v2h-1zM256 356h1v1h-1zM257 355h1v1h-1zM258 354h1v1h-1zM259 353h1v1h-1zM260 352h1v1h-1zM261 351h1v1h-1zM262 349h1v2h-1zM263 348h1v1h-1zM264 346h1v2h-1zM265 345h1v1h-1zM266 343h1v2h-1zM267 342h1v1h-1zM268 340h1v2h-1zM269 339h1v1h-1zM270 337h1v2h-1zM271 336h1v1h-1zM272 334h1v2h-1zM273 333h1v1h-1zM274 332h1v1h-1zM275 330h1v2h-1zM276 329h1v1h-1zM277 328h1v1h-1zM278 326h1v2h-1zM279 325h1v1h-1zM280 323h1v2h-1zM281 322h1v1h-1zM282 321h1v1h-1zM283 319h1v2h-1zM284 318h1v1h-1zM285 317h1v1h-1zM286 315h1v2h-1zM287 314h1v1h-1zM288 313h1v1h-1zM289 312h1v1h-1zM290 311h2v1h-2zM292 310h1v1h-1zM293 309h1v1h-1zM294 308h1v1h-1zM295 307h1v1h-1zM296 306h1v1h-1zM297 305h1v1h-1zM298 304h1v1h-1zM299 303h1v1h-1zM300 302h2v1h-2zM302 301h1v1h-1zM303 300h1v1h-1zM304 299h1v1h-1zM305 298h1v1h-1zM306 297h2v1h-2zM308 296h1v1h-1zM309 295h1v1h-1zM310 294h1v1h-1zM311 293h2v1h-2zM313 292h1v1h-1zM314 291h1v1h-1zM315 290h1v1h-1zM316 289h2v1h-2zM318 288h1v1h-1zM319 287h1v1h-1zM320 286h1v1h-1zM321 285h2v1h-2zM323 284h1v1h-1zM324 283h1v1h-1zM325 282h2v1h-2zM327 281h1v1h-1zM328 280h1v1h-1zM329 279h1v1h-1zM330 278h2v1h-2zM332 277h1v1h-1zM333 276h1v1h-1zM334 275h1v1h-1zM335 274h1v1h-1zM336 273h1v1h-1zM337 272h1v1h-1zM338 271h2v1h-2zM340 270h1v1h-1zM341 269h1v1h-1zM342 268h1v1h-1zM343 267h1v1h-1zM344 266h1v1h-1zM345 265h1v1h-1zM346 264h1v1h-1zM347 263h1v1h-1zM348 262h1v1h-1zM349 261h1v1h-1zM350 260h1v1h-1zM351 259h1v1h-1zM352 258h1v1h-1zM353 256h1v2h-1zM354 255h1v1h-1zM355 254h1v1h-1zM356 253h1v1h-1zM357 252h1v1h-1zM358 251h1v1h-1zM359 250h1v1h-1zM360 249h1v1h-1zM361 248h1v1h-1zM362 247h1v1h-1zM363 246h1v1h-1zM364 244h1v2h-1zM365 243h1v1h-1zM366 241h1v2h-1zM367 240h1v1h-1zM368 238h1v2h-1zM369 237h1v1h-1zM370 235h1v2h-1zM371 234h1v1h-1zM372 232h1v2h-1zM373 231h1v1h-1zM374 229h1v2h-1zM375 228h1v1h-1zM376 226h1v2h-1zM377 225h1v1h-1zM378 224h1v1h-1zM379 223h1v1h-1zM380 222h1v1h-1zM381 221h1v1h-1zM382 219h1v2h-1zM383 218h1v1h-1zM384 217h1v1h-1zM385 216h1v1h-1zM386 215h1v1h-1zM387 214h1v1h-1zM388 212h1v2h-1zM389 211h2v1h-2zM391 210h1v1h-1zM392 209h1v1h-1zM393 208h1v1h-1zM394 207h1v1h-1zM395 206h1v1h-1zM396 205h2v1h-2zM398 204h1v1h-1zM399 203h1v1h-1zM400 202h1v1h-1zM401 201h2v1h-2zM403 200h2v1h-2zM405 199h2v1h-2zM407 198h2v1h-2zM409 197h3v1h-3zM412 196h2v1h-2zM414 195h1v1h-1zM415 194h1v1h-1zM416 193h1v1h-1zM417 192h1v1h-1zM418 191h1v1h-1zM419 190h1v1h-1zM420 189h2v1h-2zM422 188h1v1h-1zM423 187h1v1h-1zM424 186h1v1h-1zM425 185h1v1h-1zM426 184h2v1h-2zM428 183h1v1h-1zM429 182h2v1h-2zM431 181h1v1h-1zM432 180h2v1h-2zM434 179h1v1h-1zM435 178h2v1h-2zM437 177h1v1h-1zM438 176h2v1h-2zM440 175h2v1h-2zM442 174h1v1h-1zM443 173h2v1h-2zM445 172h2v1h-2zM447 171h2v1h-2zM449 170h1v1h-1zM450 169h2v1h-2zM452 168h1v1h-1zM453 167h2v1h-2zM455 166h1v1h-1zM456 165h1v1h-1zM457 164h2v1h-2zM459 163h1v1h-1zM460 162h1v1h-1zM461 161h2v1h-2zM463 160h1v1h-1zM464 159h1v1h-1zM465 158h1v1h-1zM466 157h1v1h-1zM467 156h1v1h-1zM468 155h1v1h-1zM469 154h1v1h-1zM470 153h1v1h-1zM471 152h1v1h-1zM472 151h1v1h-1zM473 150h1v1h-1zM474 149h1v1h-1zM475 148h1v1h-1zM476 147h1v1h-1zM477 146h1v1h-1zM478 145h1v1h-1zM479 144h1v1h-1zM480 143h1v1h-1zM481 142h1v1h-1zM482 141h1v1h-1zM483 140h1v1h-1zM484 139h1v1h-1zM485 138h1v1h-1zM486 137h1v1h-1zM487 136h1v1h-1zM488 135h1v1h-1zM489 134h1v1h-1zM490 133h1v1h-1zM491 132h2v1h-2zM493 131h1v1h-1zM494 130h1v1h-1zM495 129h2v1h-2zM497 128h1v1h-1zM498 127h2v1h-2zM500 126h2v1h-2zM502 125h16v1h-16zM518 126h5v1h-5zM523 127h4v1h-4zM527 128h4v1h-4zM531 129h4v1h-4zM535 130h1v1h-1zM536 131h2v1h-2zM538 132h1v1h-1zM539 133h1v1h-1zM540 134h1v1h-1zM541 135h1v1h-1zM542 136h1v1h-1zM543 137h1v1h-1zM544 138h1v1h-1zM545 139h1v1h-1zM546 140h1v1h-1zM547 141h1v1h-1zM548 142h1v1h-1zM549 143h1v1h-1zM550 144h1v1h-1zM551 145h1v1h-1zM552 146h1v1h-1zM553 147h1v1h-1zM554 148h1v1h-1zM555 149h1v1h-1zM556 150h1v1h-1zM557 151h1v1h-1zM558 152h1v1h-1zM559 153h1v1h-1zM560 154h1v1h-1zM561 155h1v1h-1zM562 156h1v1h-1zM563 157h1v1h-1zM564 158h1v1h-1zM565 159h1v1h-1zM566 160h1v1h-1zM567 161h1v1h-1zM568 162h1v1h-1zM569 163h1v1h-1zM570 164h1v1h-1zM571 165h1v1h-1zM572 166h1v1h-1zM573 167h1v1h-1zM574 168h2v1h-2zM576 169h1v1h-1zM577 170h1v1h-1zM578 171h1v1h-1zM579 172h2v1h-2zM581 173h1v1h-1zM582 174h2v1h-2zM584 175h1v1h-1zM585 176h2v1h-2zM587 177h1v1h-1zM588 178h1v1h-1zM589 179h1v1h-1zM590 180h2v1h-2zM592 181h1v1h-1zM593 182h1v1h-1zM594 183h2v1h-2zM596 184h1v1h-1zM597 185h1v1h-1zM598 186h1v1h-1zM599 187h2v1h-2zM601 188h1v1h-1zM602 189h1v1h-1zM603 190h1v1h-1zM604 191h1v1h-1zM605 192h1v1h-1zM606 193h1v1h-1zM607 194h1v1h-1zM608 195h1v1h-1zM609 196h1v1h-1zM610 197h2v1h-2zM612 198h1v2h-1zM613 200h1v1h-1zM614 201h1v1h-1zM615 202h1v1h-1zM616 203h1v1h-1zM617 204h1v1h-1zM618 205h1v1h-1zM619 206h1v1h-1zM620 207h1v2h-1zM621 209h1v1h-1zM622 210h1v1h-1zM623 211h1v1h-1zM624 212h1v1h-1zM625 213h1v2h-1zM626 215h1v1h-1zM627 216h1v1h-1zM628 217h1v1h-1zM629 218h1v1h-1zM630 219h1v2h-1zM631 221h1v1h-1zM632 222h1v1h-1zM633 223h1v1h-1zM634 224h1v1h-1zM635 225h1v1h-1zM636 226h1v2h-1zM637 228h1v1h-1zM638 229h1v1h-1zM639 230h1v1h-1zM640 231h1v2h-1zM641 233h1v1h-1zM642 234h1v1h-1zM643 235h1v2h-1zM644 237h1v1h-1zM645 238h1v2h-1zM646 240h1v1h-1zM647 241h1v2h-1zM648 243h1v1h-1zM649 244h1v2h-1zM650 246h1v1h-1zM651 247h1v2h-1zM652 249h1v1h-1zM653 250h1v1h-1zM654 251h1v1h-1zM655 252h1v2h-1zM656 254h1v1h-1zM657 255h1v1h-1zM658 256h1v1h-1zM659 257h1v1h-1zM660 258h1v2h-1zM661 260h1v1h-1zM662 261h1v1h-1zM663 262h1v1h-1zM664 263h1v1h-1zM665 264h1v1h-1zM666 265h1v1h-1zM667 266h1v1h-1zM668 267h1v1h-1zM669 268h1v1h-1zM670 269h1v1h-1zM671 270h1v1h-1zM672 271h2v1h-2zM674 272h1v1h-1zM675 273h2v1h-2zM677 274h1v1h-1zM678 275h1v1h-1zM679 276h1v1h-1zM680 277h1v1h-1zM681 278h2v1h-2zM683 279h1v1h-1zM684 280h1v1h-1zM685 281h1v1h-1zM686 282h1v1h-1zM687 283h1v1h-1zM688 284h1v1h-1zM689 285h1v1h-1zM690 286h1v1h-1zM691 287h1v1h-1zM692 288h1v1h-1zM693 289h2v1h-2zM695 290h1v1h-1zM696 291h1v1h-1zM697 292h1v1h-1zM698 293h1v1h-1zM699 294h1v1h-1zM700 295h1v1h-1zM701 296h1v1h-1zM702 297h1v1h-1zM703 298h1v1h-1zM704 299h1v1h-1zM705 300h1v2h-1zM706 302h1v1h-1zM707 303h1v1h-1zM708 304h1v1h-1zM709 305h1v1h-1zM710 306h2v1h-2zM712 307h1v1h-1zM713 308h1v1h-1zM714 309h1v1h-1zM715 310h1v1h-1zM716 311h2v1h-2zM718 312h1v1h-1zM719 313h1v1h-1zM720 314h1v1h-1zM721 315h2v1h-2zM723 316h2v1h-2zM725 317h2v1h-2zM727 318h2v1h-2zM729 319h1v1h-1zM730 320h2v1h-2zM732 321h2v1h-2zM734 322h2v1h-2zM736 323h1v1h-1zM737 324h2v1h-2zM739 325h1v1h-1zM740 326h2v1h-2zM742 327h1v1h-1zM743 328h2v1h-2zM745 329h1v1h-1zM746 330h2v1h-2zM748 331h1v1h-1zM749 332h1v1h-1zM750 333h1v1h-1zM751 334h2v1h-2zM753 335h1v1h-1zM754 336h1v1h-1zM755 337h1v1h-1zM756 338h2v1h-2zM758 339h1v1h-1zM759 340h1v1h-1zM760 341h1v1h-1zM761 342h2v1h-2zM763 343h1v1h-1zM764 344h1v1h-1zM765 345h1v1h-1zM766 346h1v1h-1zM767 347h1v1h-1zM768 348h2v1h-2zM770 349h1v1h-1zM771 350h1v1h-1zM772 351h2v1h-2zM774 352h1v1h-1zM775 353h2v1h-2zM777 354h1v1h-1zM778 355h2v1h-2zM780 356h1v1h-1zM781 357h2v1h-2zM783 358h1v1h-1zM784 359h2v1h-2zM786 360h3v1h-3zM789 361h3v1h-3zM792 362h3v1h-3zM795 363h5v1h-5zM800 364h5v1h-5zM805 365h6v1h-6zM811 366h7v1h-7zM818 365h6v1h-6zM824 364h10v1h-10zM834 363h7v1h-7zM841 362h7v1h-7zM848 361h3v1h-3zM851 360h2v1h-2zM853 359h2v1h-2zM855 358h2v1h-2zM857 357h3v1h-3zM860 356h2v1h-2zM862 355h2v1h-2zM864 354h2v1h-2zM866 353h2v1h-2zM868 352h2v1h-2zM870 351h2v1h-2zM872 350h1v1h-1zM873 349h2v1h-2zM875 348h1v1h-1zM876 347h1v1h-1zM877 346h2v1h-2zM879 345h1v1h-1zM880 344h1v1h-1zM881 343h2v1h-2zM883 342h1v1h-1zM884 341h1v1h-1zM885 340h2v1h-2zM887 339h1v1h-1zM888 338h1v1h-1zM889 337h2v1h-2zM891 336h1v1h-1zM892 335h2v1h-2zM894 334h1v1h-1zM895 333h2v1h-2zM897 332h2v1h-2zM899 331h2v1h-2zM901 330h1v1h-1zM902 329h2v1h-2zM904 328h1v1h-1zM905 327h1v1h-1zM906 326h1v1h-1zM907 325h1v1h-1zM908 324h2v1h-2zM910 323h1v1h-1zM911 322h1v1h-1zM912 321h1v1h-1zM913 320h1v1h-1zM914 319h1v1h-1zM915 318h1v1h-1zM916 317h1v1h-1zM917 316h1v1h-1zM918 315h1v1h-1zM919 314h1v1h-1zM920 313h1v1h-1zM921 312h1v1h-1zM922 311h1v1h-1zM923 310h1v1h-1zM924 309h1v1h-1zM925 307h1v2h-1zM926 306h1v1h-1zM927 305h1v1h-1zM928 304h1v1h-1zM929 303h1v1h-1zM930 302h1v1h-1zM931 301h1v1h-1zM932 300h1v1h-1zM933 299h1v1h-1zM934 298h1v1h-1zM935 297h1v1h-1zM936 296h1v1h-1zM937 295h2v1h-2zM939 294h1v1h-1zM940 293h1v1h-1zM941 292h1v1h-1zM942 291h1v1h-1zM943 290h1v1h-1zM944 289h1v1h-1zM945 288h2v1h-2zM947 287h1v1h-1zM948 286h1v1h-1zM949 285h2v1h-2zM951 284h2v1h-2zM953 283h2v1h-2zM955 282h3v1h-3zM958 281h3v1h-3zM961 280h2v1h-2zM963 279h3v1h-3zM966 278h3v1h-3zM969 277h3v1h-3zM972 276h3v1h-3zM975 275h2v1h-2zM977 274h1v1h-1zM978 273h2v1h-2zM980 272h2v1h-2zM982 271h1v1h-1zM983 270h2v1h-2zM985 269h2v1h-2zM987 268h1v1h-1zM988 267h2v1h-2zM990 266h2v1h-2zM992 265h1v1h-1zM993 264h2v1h-2zM995 263h1v1h-1zM996 262h2v1h-2zM998 261h1v1h-1zM999 260h2v1h-2zM1001 259h1v1h-1zM1002 258h2v1h-2zM1004 257h1v1h-1zM1005 256h1v1h-1zM1006 255h2v1h-2zM1008 254h1v1h-1zM1009 253h2v1h-2zM1011 252h1v1h-1zM1012 251h2v1h-2zM1014 250h1v1h-1zM1015 249h1v1h-1zM1016 248h1v1h-1zM1017 247h2v1h-2zM1019 246h1v1h-1zM1020 245h1v1h-1zM1021 244h2v1h-2zM1023 243h1v1h-1zM1024 242h1v1h-1zM1025 241h1v1h-1zM1026 240h2v1h-2zM1028 239h1v1h-1zM1029 238h1v1h-1zM1030 237h2v1h-2zM1032 236h2v1h-2zM1034 235h1v1h-1zM1035 234h2v1h-2zM1037 233h1v1h-1zM1038 232h2v1h-2zM1040 231h3v1h-3zM1043 230h3v1h-3zM1046 229h3v1h-3zM1049 228h3v1h-3zM1052 227h5v1h-5zM1057 226h4v1h-4zM1061 225h5v1h-5zM1066 224h4v1h-4zM1070 223h33v1h-33zM1103 222h5v1h-5zM1108 221h5v1h-5zM1113 220h7v1h-7zM1120 219h20v1h-20zM1140 220h4v1h-4zM1144 221h4v1h-4zM1148 222h4v1h-4zM1152 223h2v1h-2zM1154 224h2v1h-2zM1156 225h2v1h-2zM1158 226h1v1h-1zM1159 227h2v1h-2zM1161 228h2v1h-2zM1163 229h2v1h-2zM1165 230h1v1h-1zM1166 231h2v1h-2zM1168 232h2v1h-2zM1170 233h1v1h-1zM1171 234h2v1h-2zM1173 235h1v1h-1zM1174 236h1v1h-1z" fill="#ff0000" />
</g>
<g shape-rendering="crispEdges">
<rect x="6" y="189" width="1190" height="2" fill="#ff0000"/>
<rect x="6" y="247" width="1190" height="2" fill="#ff0000"/>
<rect x="6" y="300" width="1190" height="2" fill="#00cc00"/>
<rect x="6" y="348" width="1190" height="2" fill="#3c52e0"/>
<rect x="6" y="406" width="1190" height="2" fill="#3c52e0"/>
<rect x="6" y="520" width="1" height="2" fill="#c0c0c0"/>
<rect x="14" y="520" width="1" height="2" fill="#c0c0c0"/>
<rect x="22" y="519" width="1" height="3" fill="#c0c0c0"/>
<rect x="30" y="518" width="1" height="4" fill="#c0c0c0"/>
<rect x="38" y="515" width="1" height="7" fill="#c0c0c0"/>
<rect x="46" y="511" width="1" height="11" fill="#c0c0c0"/>
<rect x="54" y="510" width="1" height="12" fill="#c0c0c0"/>
<rect x="62" y="512" width="1" height="10" fill="#c0c0c0"/>
<rect x="70" y="514" width="1" height="8" fill="#c0c0c0"/>
<rect x="78" y="514" width="1" height="8" fill="#c0c0c0"/>
<rect x="86" y="514" width="1" height="8" fill="#c0c0c0"/>
<rect x="94" y="515" width="1" height="7" fill="#c0c0c0"/>
<rect x="102" y="517" width="1" height="5" fill="#c0c0c0"/>
<rect x="110" y="519" width="1" height="3" fill="#c0c0c0"/>
<rect x="118" y="521" width="1" height="1" fill="#c0c0c0"/>
<rect x="126" y="518" width="1" height="4" fill="#c0c0c0"/>
<rect x="134" y="517" width="1" height="5" fill="#c0c0c0"/>
<rect x="142" y="517" width="1" height="5" fill="#c0c0c0"/>
<rect x="150" y="517" width="1" height="5" fill="#c0c0c0"/>
<rect x="158" y="516" width="1" height="6" fill="#c0c0c0"/>
<rect x="166" y="515" width="1" height="7" fill="#c0c0c0"/>
<rect x="174" y="515" width="1" height="7" fill="#c0c0c0"/>
<rect x="182" y="515" width="1" height="7" fill="#c0c0c0"/>
<rect x="190" y="514" width="1" height="8" fill="#c0c0c0"/>
<rect x="198" y="512" width="1" height="10" fill="#c0c0c0"/>
<rect x="206" y="507" width="1" height="15" fill="#c0c0c0"/>
<rect x="214" y="504" width="1" height="18" fill="#c0c0c0"/>
<rect x="222" y="500" width="1" height="22" fill="#c0c0c0"/>
<rect x="230" y="495" width="1" height="27" fill="#c0c0c0"/>
<rect x="238" y="490" width="1" height="32" fill="#c0c0c0"/>
<rect x="246" y="488" width="1" height="34" fill="#c0c0c0"/>
<rect x="254" y="489" width="1" height="33" fill="#c0c0c0"/>
<rect x="262" y="486" width="1" height="36" fill="#c0c0c0"/>
<rect x="270" y="485" width="1" height="37" fill="#c0c0c0"/>
<rect x="278" y="482" width="1" height="40" fill="#c0c0c0"/>
<rect x="286" y="479" width="1" height="43" fill="#c0c0c0"/>
<rect x="294" y="479" width="1" height="43" fill="#c0c0c0"/>
<rect x="302" y="482" width="1" height="40" fill="#c0c0c0"/>
<rect x="310" y="486" width="1" height="36" fill="#c0c0c0"/>
<rect x="318" y="489" width="1" height="33" fill="#c0c0c0"/>
<rect x="326" y="491" width="1" height="31" fill="#c0c0c0"/>
<rect x="334" y="494" width="1" height="28" fill="#c0c0c0"/>
<rect x="342" y="495" width="1" height="27" fill="#c0c0c0"/>
<rect x="350" y="495" width="1" height="27" fill="#c0c0c0"/>
<rect x="358" y="493" width="1" height="29" fill="#c0c0c0"/>
<rect x="366" y="492" width="1" height="30" fill="#c0c0c0"/>
<rect x="374" y="483" width="1" height="39" fill="#c0c0c0"/>
<rect x="382" y="479" width="1" height="43" fill="#c0c0c0"/>
<rect x="390" y="475" width="1" height="47" fill="#c0c0c0"/>
<rect x="398" y="474" width="1" height="48" fill="#c0c0c0"/>
<rect x="406" y="477" width="1" height="45" fill="#c0c0c0"/>
<rect x="414" y="479" width="1" height="43" fill="#c0c0c0"/>
<rect x="422" y="480" width="1" height="42" fill="#c0c0c0"/>
<rect x="430" y="482" width="1" height="40" fill="#c0c0c0"/>
<rect x="438" y="483" width="1" height="39" fill="#c0c0c0"/>
<rect x="446" y="483" width="1" height="39" fill="#c0c0c0"/>
<rect x="454" y="481" width="1" height="41" fill="#c0c0c0"/>
<rect x="462" y="482" width="1" height="40" fill="#c0c0c0"/>
<rect x="470" y="482" width="1" height="40" fill="#c0c0c0"/>
<rect x="478" y="483" width="1" height="39" fill="#c0c0c0"/>
<rect x="486" y="484" width="1" height="38" fill="#c0c0c0"/>
<rect x="494" y="489" width="1" height="33" fill="#c0c0c0"/>
<rect x="502" y="495" width="1" height="27" fill="#c0c0c0"/>
<rect x="510" y="505" width="1" height="17" fill="#c0c0c0"/>
<rect x="518" y="513" width="1" height="9" fill="#c0c0c0"/>
<rect x="526" y="518" width="1" height="4" fill="#c0c0c0"/>
<rect x="534" y="521" width="1" height="1" fill="#c0c0c0"/>
<rect x="542" y="521" width="1" height="4" fill="#c0c0c0"/>
<rect x="550" y="521" width="1" height="7" fill="#c0c0c0"/>
<rect x="558" y="521" width="1" height="13" fill="#c0c0c0"/>
<rect x="566" y="521" width="1" height="16" fill="#c0c0c0"/>
<rect x="574" y="521" width="1" height="20" fill="#c0c0c0"/>
<rect x="582" y="521" width="1" height="21" fill="#c0c0c0"/>
<rect x="590" y="521" width="1" height="21" fill="#c0c0c0"/>
<rect x="598" y="521" width="1" height="21" fill="#c0c0c0"/>
<rect x="606" y="521" width="1" height="20" fill="#c0c0c0"/>
<rect x="614" y="521" width="1" height="19" fill="#c0c0c0"/>
<rect x="622" y="521" width="1" height="20" fill="#c0c0c0"/>
<rect x="630" y="521" width="1" height="21" fill="#c0c0c0"/>
<rect x="638" y="521" width="1" height="22" fill="#c0c0c0"/>
<rect x="646" y="521" width="1" height="23" fill="#c0c0c0"/>
<rect x="654" y="521" width="1" height="25" fill="#c0c0c0"/>
<rect x="662" y="521" width="1" height="27" fill="#c0c0c0"/>
<rect x="670" y="521" width="1" height="27" fill="#c0c0c0"/>
<rect x="678" y="521" width="1" height="31" fill="#c0c0c0"/>
<rect x="686" y="521" width="1" height="33" fill="#c0c0c0"/>
<rect x="694" y="521" width="1" height="37" fill="#c0c0c0"/>
<rect x="702" y="521" width="1" height="38" fill="#c0c0c0"/>
<rect x="710" y="521" width="1" height="39" fill="#c0c0c0"/>
<rect x="718" y="521" width="1" height="39" fill="#c0c0c0"/>
<rect x="726" y="521" width="1" height="38" fill="#c0c0c0"/>
<rect x="734" y="521" width="1" height="36" fill="#c0c0c0"/>
<rect x="742" y="521" width="1" height="35" fill="#c0c0c0"/>
<rect x="750" y="521" width="1" height="35" fill="#c0c0c0"/>
<rect x="758" y="521" width="1" height="33" fill="#c0c0c0"/>
<rect x="766" y="521" width="1" height="32" fill="#c0c0c0"/>
<rect x="774" y="521" width="1" height="30" fill="#c0c0c0"/>
<rect x="782" y="521" width="1" height="27" fill="#c0c0c0"/>
<rect x="790" y="521" width="1" height="24" fill="#c0c0c0"/>
<rect x="798" y="521" width="1" height="18" fill="#c0c0c0"/>
<rect x="806" y="521" width="1" height="14" fill="#c0c0c0"/>
<rect x="814" y="521" width="1" height="11" fill="#c0c0c0"/>
<rect x="822" y="521" width="1" height="7" fill="#c0c0c0"/>
<rect x="830" y="521" width="1" height="5" fill="#c0c0c0"/>
<rect x="838" y="521" width="1" height="3" fill="#c0c0c0"/>
<rect x="846" y="521" width="1" height="2" fill="#c0c0c0"/>
<rect x="854" y="521" width="1" height="1" fill="#c0c0c0"/>
<rect x="862" y="521" width="1" height="1" fill="#c0c0c0"/>
<rect x="870" y="520" width="1" height="2" fill="#c0c0c0"/>
<rect x="878" y="517" width="1" height="5" fill="#c0c0c0"/>
<rect x="886" y="515" width="1" height="7" fill="#c0c0c0"/>
<rect x="894" y="513" width="1" height="9" fill="#c0c0c0"/>
<rect x="902" y="510" width="1" height="12" fill="#c0c0c0"/>
<rect x="910" y="507" width="1" height="15" fill="#c0c0c0"/>
<rect x="918" y="503" width="1" height="19" fill="#c0c0c0"/>
<rect x="926" y="501" width="1" height="21" fill="#c0c0c0"/>
<rect x="934" y="500" width="1" height="22" fill="#c0c0c0"/>
<rect x="942" y="500" width="1" height="22" fill="#c0c0c0"/>
<rect x="950" y="502" width="1" height="20" fill="#c0c0c0"/>
<rect x="958" y="504" width="1" height="18" fill="#c0c0c0"/>
<rect x="966" y="504" width="1" height="18" fill="#c0c0c0"/>
<rect x="974" y="504" width="1" height="18" fill="#c0c0c0"/>
<rect x="982" y="504" width="1" height="18" fill="#c0c0c0"/>
<rect x="990" y="502" width="1" height="20" fill="#c0c0c0"/>
<rect x="998" y="501" width="1" height="21" fill="#c0c0c0"/>
<rect x="1006" y="500" width="1" height="22" fill="#c0c0c0"/>
<rect x="1014" y="499" width="1" height="23" fill="#c0c0c0"/>
<rect x="1022" y="498" width="1" height="24" fill="#c0c0c0"/>
<rect x="1030" y="499" width="1" height="23" fill="#c0c0c0"/>
<rect x="1038" y="499" width="1" height="23" fill="#c0c0c0"/>
<rect x="1046" y="501" width="1" height="21" fill="#c0c0c0"/>
<rect x="1054" y="504" width="1" height="18" fill="#c0c0c0"/>
<rect x="1062" y="504" width="1" height="18" fill="#c0c0c0"/>
<rect x="1070" y="506" width="1" height="16" fill="#c0c0c0"/>
<rect x="1078" y="509" width="1" height="13" fill="#c0c0c0"/>
<rect x="1086" y="511" width="1" height="11" fill="#c0c0c0"/>
<rect x="1094" y="511" width="1" height="11" fill="#c0c0c0"/>
<rect x="1102" y="510" width="1" height="12" fill="#c0c0c0"/>
<rect x="1110" y="511" width="1" height="11" fill="#c0c0c0"/>
<rect x="1118" y="513" width="1" height="9" fill="#c0c0c0"/>
<rect x="1126" y="515" width="1" height="7" fill="#c0c0c0"/>
<rect x="1134" y="517" width="1" height="5" fill="#c0c0c0"/>
<rect x="1142" y="520" width="1" height="2" fill="#c0c0c0"/>
<rect x="1150" y="521" width="1" height="1" fill="#c0c0c0"/>
<rect x="1158" y="521" width="1" height="5" fill="#c0c0c0"/>
<rect x="1166" y="521" width="1" height="8" fill="#c0c0c0"/>
<rect x="1174" y="521" width="1" height="11" fill="#c0c0c0"/>
</g>
<g shape-rendering="crispEdges">
<path d="M6 519h3v1h-3zM12 519h5v1h-5zM20 519h5v1h-5zM28 518h5v1h-5zM36 518h5v1h-5zM44 517h5v1h-5zM52 516h3v1h-3zM55 515h2v1h-2zM60 515h2v1h-2zM62 514h3v1h-3zM68 514h5v1h-5zM76 513h5v1h-5zM84 513h5v1h-5zM92 512h5v1h-5zM100 512h5v1h-5zM108 513h5v1h-5zM116 514h5v1h-5zM124 515h5v1h-5zM132 515h5v1h-5zM140 515h5v1h-5zM148 516h5v1h-5zM156 516h5v1h-5zM164 516h5v1h-5zM172 516h3v1h-3zM175 515h2v1h-2zM180 515h5v1h-5zM188 515h5v1h-5zM196 514h5v1h-5zM204 513h5v1h-5zM212 512h5v1h-5zM220 511h1v1h-1zM221 510h4v1h-4zM228 509h1v1h-1zM229 508h3v1h-3zM232 507h1v1h-1zM236 506h2v1h-2zM238 505h3v1h-3zM244 503h3v1h-3zM247 502h2v1h-2zM252 500h2v1h-2zM254 499h3v1h-3zM260 497h2v1h-2zM262 496h3v1h-3zM268 494h3v1h-3zM271 493h2v1h-2zM276 491h3v1h-3zM279 490h2v1h-2zM284 488h3v1h-3zM287 487h2v1h-2zM292 485h4v1h-4zM296 484h1v1h-1zM300 484h1v1h-1zM301 483h4v1h-4zM308 483h5v1h-5zM316 483h5v1h-5zM324 483h5v1h-5zM332 483h1v1h-1zM333 484h4v1h-4zM340 484h1v1h-1zM341 485h4v1h-4zM348 486h2v1h-2zM350 487h3v1h-3zM356 488h4v1h-4zM360 489h1v1h-1zM364 489h2v1h-2zM366 490h3v1h-3zM372 490h5v1h-5zM380 489h5v1h-5zM388 488h4v1h-4zM392 487h1v1h-1zM396 486h5v1h-5zM404 485h1v1h-1zM405 484h4v1h-4zM412 483h1v1h-1zM413 482h4v1h-4zM420 481h1v1h-1zM421 480h4v1h-4zM428 479h5v1h-5zM436 478h5v1h-5zM444 478h5v1h-5zM452 478h5v1h-5zM460 479h5v1h-5zM468 480h5v1h-5zM476 480h4v1h-4zM480 481h1v1h-1zM484 481h5v1h-5zM492 482h5v1h-5zM500 483h3v1h-3zM503 484h2v1h-2zM508 485h3v1h-3zM511 486h2v1h-2zM516 488h1v1h-1zM517 489h2v1h-2zM519 490h2v1h-2zM524 492h1v1h-1zM525 493h2v1h-2zM527 494h2v1h-2zM532 497h2v1h-2zM534 498h1v1h-1zM535 499h2v1h-2zM540 502h2v1h-2zM542 503h2v1h-2zM544 504h1v1h-1zM548 506h1v1h-1zM549 507h1v1h-1zM550 508h2v1h-2zM552 509h1v1h-1zM556 511h1v1h-1zM557 512h1v1h-1zM558 513h2v1h-2zM560 514h1v1h-1zM564 517h1v1h-1zM565 518h2v1h-2zM567 519h1v1h-1zM568 520h1v1h-1zM572 522h1v1h-1zM573 523h2v1h-2zM575 524h1v1h-1zM576 525h1v1h-1zM580 527h2v1h-2zM582 528h2v1h-2zM584 529h1v1h-1zM588 531h2v1h-2zM590 532h3v1h-3zM596 534h4v1h-4zM600 535h1v1h-1zM604 536h1v1h-1zM605 537h3v1h-3zM608 538h1v1h-1zM612 538h2v1h-2zM614 539h3v1h-3zM620 539h2v1h-2zM622 540h3v1h-3zM628 540h3v1h-3zM631 541h2v1h-2zM636 541h5v1h-5zM644 541h2v1h-2zM646 542h3v1h-3zM652 542h5v1h-5zM660 543h5v1h-5zM668 544h5v1h-5zM676 544h1v1h-1zM677 545h4v1h-4zM684 546h3v1h-3zM687 547h2v1h-2zM692 548h5v1h-5zM700 549h2v1h-2zM702 550h3v1h-3zM708 551h2v1h-2zM710 552h3v1h-3zM716 553h2v1h-2zM718 554h3v1h-3zM724 555h5v1h-5zM732 556h5v1h-5zM740 556h2v1h-2zM742 557h3v1h-3zM748 557h5v1h-5zM756 557h5v1h-5zM764 557h5v1h-5zM772 556h5v1h-5zM780 555h5v1h-5zM788 554h1v1h-1zM789 553h4v1h-4zM796 551h3v1h-3zM799 550h2v1h-2zM804 549h1v1h-1zM805 548h3v1h-3zM808 547h1v1h-1zM812 546h4v1h-4zM816 545h1v1h-1zM820 544h1v1h-1zM821 543h3v1h-3zM824 542h1v1h-1zM828 541h2v1h-2zM830 540h2v1h-2zM832 539h1v1h-1zM836 538h2v1h-2zM838 537h2v1h-2zM840 536h1v1h-1zM844 535h2v1h-2zM846 534h3v1h-3zM852 532h3v1h-3zM855 531h2v1h-2zM860 529h2v1h-2zM862 528h2v1h-2zM864 527h1v1h-1zM868 526h5v1h-5zM876 525h2v1h-2zM878 524h3v1h-3zM884 523h2v1h-2zM886 522h3v1h-3zM892 521h2v1h-2zM894 520h3v1h-3zM900 519h2v1h-2zM902 518h3v1h-3zM908 517h1v1h-1zM909 516h3v1h-3zM912 515h1v1h-1zM916 514h1v1h-1zM917 513h2v1h-2zM919 512h2v1h-2zM924 511h3v1h-3zM927 510h2v1h-2zM932 509h3v1h-3zM935 508h2v1h-2zM940 507h3v1h-3zM943 506h2v1h-2zM948 505h5v1h-5zM956 504h1v1h-1zM957 503h4v1h-4zM964 502h5v1h-5zM972 502h5v1h-5zM980 502h5v1h-5zM988 502h5v1h-5zM996 502h5v1h-5zM1004 502h5v1h-5zM1012 502h3v1h-3zM1015 501h2v1h-2zM1020 501h5v1h-5zM1028 500h5v1h-5zM1036 500h5v1h-5zM1044 500h5v1h-5zM1052 500h5v1h-5zM1060 500h5v1h-5zM1068 500h2v1h-2zM1070 501h3v1h-3zM1076 501h1v1h-1zM1077 502h4v1h-4zM1084 503h5v1h-5zM1092 504h5v1h-5zM1100 505h5v1h-5zM1108 506h2v1h-2zM1110 507h3v1h-3zM1116 508h5v1h-5zM1124 508h4v1h-4zM1128 509h1v1h-1zM1132 510h4v1h-4zM1136 511h1v1h-1zM1140 511h1v1h-1zM1141 512h4v1h-4zM1148 513h3v1h-3zM1151 514h2v1h-2zM1156 515h2v1h-2zM1158 516h3v1h-3zM1164 517h3v1h-3zM1167 518h2v1h-2zM1172 519h2v1h-2zM1174 520h1v1h-1z" fill="#ff0000" />
</g>
<g shape-rendering="crispEdges">
<line x1="7" y1="598.5" x2="1193" y2="598.5" stroke="#c0c0c0" stroke-width="1" stroke-dasharray="3 3"/>
<line x1="7" y1="638.5" x2="1193" y2="638.5" stroke="#c0c0c0" stroke-width="1" stroke-dasharray="3 3"/>
</g>
<g shape-rendering="crispEdges">
<path d="M6 612h2v1h-2zM8 613h1v1h-1zM9 614h1v1h-1zM10 615h1v1h-1zM11 616h1v1h-1zM12 617h1v1h-1zM13 618h1v1h-1zM14 619h3v1h-3zM17 618h1v1h-1zM18 617h2v1h-2zM20 616h1v1h-1zM21 615h2v1h-2zM23 614h1v1h-1zM24 613h1v1h-1zM25 612h1v1h-1zM26 611h1v1h-1zM27 610h1v1h-1zM28 609h1v1h-1zM29 608h1v1h-1zM30 607h1v1h-1zM31 606h1v1h-1zM32 605h1v1h-1zM33 604h2v1h-2zM35 603h1v1h-1zM36 602h2v1h-2zM38 601h1v1h-1zM39 600h1v1h-1zM40 599h2v1h-2zM42 598h1v1h-1zM43 597h2v1h-2zM45 596h1v1h-1zM46 595h1v1h-1zM47 596h1v1h-1zM48 597h1v1h-1zM49 598h1v2h-1zM50 600h1v1h-1zM51 601h1v1h-1zM52 602h1v2h-1zM53 604h1v1h-1zM54 605h1v1h-1zM55 606h1v2h-1zM56 608h1v2h-1zM57 610h1v1h-1zM58 611h1v2h-1zM59 613h1v2h-1zM60 615h1v1h-1zM61 616h1v2h-1zM62 618h1v1h-1zM63 619h1v1h-1zM64 618h2v1h-2zM66 617h2v1h-2zM68 616h2v1h-2zM70 615h2v1h-2zM72 614h4v1h-4zM76 613h6v1h-6zM82 614h4v1h-4zM86 615h2v1h-2zM88 616h2v1h-2zM90 617h2v1h-2zM92 618h2v1h-2zM94 619h1v1h-1zM95 620h2v1h-2zM97 621h2v1h-2zM99 622h2v1h-2zM101 623h1v1h-1zM102 624h4v1h-4zM106 623h13v1h-13zM119 622h1v1h-1zM120 620h1v2h-1zM121 618h1v2h-1zM122 617h1v1h-1zM123 615h1v2h-1zM124 613h1v2h-1zM125 612h1v1h-1zM126 611h1v1h-1zM127 610h9v1h-9zM136 611h2v1h-2zM138 612h2v1h-2zM140 613h2v1h-2zM142 614h2v1h-2zM144 613h4v1h-4zM148 612h6v1h-6zM154 613h4v1h-4zM158 614h11v1h-11zM169 613h6v1h-6zM175 612h4v1h-4zM179 611h4v1h-4zM183 610h4v1h-4zM187 609h4v1h-4zM191 608h1v1h-1zM192 607h2v1h-2zM194 606h1v1h-1zM195 605h2v1h-2zM197 604h1v1h-1zM198 603h1v1h-1zM199 602h1v1h-1zM200 601h1v1h-1zM201 600h1v1h-1zM202 599h1v1h-1zM203 598h1v1h-1zM204 597h1v1h-1zM205 596h1v1h-1zM206 595h5v1h-5zM211 596h5v1h-5zM216 595h2v1h-2zM218 594h2v1h-2zM220 593h2v1h-2zM222 592h2v1h-2zM224 591h4v1h-4zM228 590h4v1h-4zM232 589h2v1h-2zM234 588h3v1h-3zM237 587h3v1h-3zM240 588h2v1h-2zM242 589h2v1h-2zM244 590h2v1h-2zM246 591h1v1h-1zM247 592h1v2h-1zM248 594h1v2h-1zM249 596h1v1h-1zM250 597h1v2h-1zM251 599h1v2h-1zM252 601h1v1h-1zM253 602h1v2h-1zM254 604h2v1h-2zM256 603h1v1h-1zM257 602h1v1h-1zM258 601h1v1h-1zM259 600h1v1h-1zM260 599h1v1h-1zM261 598h1v1h-1zM262 597h3v1h-3zM265 598h2v1h-2zM267 599h3v1h-3zM270 600h2v1h-2zM272 599h3v1h-3zM275 598h3v1h-3zM278 597h3v1h-3zM281 596h2v1h-2zM283 595h2v1h-2zM285 594h3v1h-3zM288 595h1v1h-1zM289 596h1v2h-1zM290 598h1v1h-1zM291 599h1v1h-1zM292 600h1v1h-1zM293 601h1v1h-1zM294 602h1v1h-1zM295 603h1v1h-1zM296 604h2v1h-2zM298 605h1v1h-1zM299 606h1v1h-1zM300 607h1v1h-1zM301 608h2v1h-2zM303 609h1v1h-1zM304 610h2v1h-2zM306 611h2v1h-2zM308 612h2v1h-2zM310 613h3v1h-3zM313 612h4v1h-4zM317 611h5v1h-5zM322 610h7v1h-7zM329 611h2v1h-2zM331 612h3v1h-3zM334 613h3v1h-3zM337 612h4v1h-4zM341 611h3v1h-3zM344 610h2v1h-2zM346 609h1v1h-1zM347 608h2v1h-2zM349 607h2v1h-2zM351 606h1v1h-1zM352 605h2v1h-2zM354 604h2v1h-2zM356 603h2v1h-2zM358 602h4v1h-4zM362 603h4v1h-4zM366 604h1v1h-1zM367 603h1v1h-1zM368 601h1v2h-1zM369 600h1v1h-1zM370 598h1v2h-1zM371 597h1v1h-1zM372 595h1v2h-1zM373 594h1v1h-1zM374 593h1v1h-1zM375 592h1v1h-1zM376 593h1v1h-1zM377 594h1v1h-1zM378 595h2v1h-2zM380 596h1v1h-1zM381 597h1v1h-1zM382 598h4v1h-4zM386 597h7v1h-7zM393 598h2v1h-2zM395 599h2v1h-2zM397 600h2v1h-2zM399 601h1v1h-1zM400 602h1v1h-1zM401 603h1v1h-1zM402 604h1v1h-1zM403 605h1v1h-1zM404 606h1v1h-1zM405 607h1v1h-1zM406 608h1v1h-1zM407 609h9v1h-9zM416 608h4v1h-4zM420 607h5v1h-5zM425 606h6v1h-6zM431 605h10v1h-10zM441 604h6v1h-6zM447 603h2v1h-2zM449 602h1v1h-1zM450 601h2v1h-2zM452 600h1v1h-1zM453 599h3v1h-3zM456 600h1v1h-1zM457 601h1v1h-1zM458 602h1v1h-1zM459 603h1v1h-1zM460 604h1v1h-1zM461 605h1v1h-1zM462 606h4v1h-4zM466 605h6v1h-6zM472 604h5v1h-5zM477 603h3v1h-3zM480 604h2v1h-2zM482 605h2v1h-2zM484 606h2v1h-2zM486 607h2v1h-2zM488 608h1v2h-1zM489 610h1v1h-1zM490 611h1v1h-1zM491 612h1v1h-1zM492 613h1v1h-1zM493 614h1v1h-1zM494 615h1v1h-1zM495 616h2v1h-2zM497 617h3v1h-3zM500 618h2v1h-2zM502 619h1v1h-1zM503 620h1v1h-1zM504 621h1v1h-1zM505 622h1v2h-1zM506 624h1v1h-1zM507 625h1v2h-1zM508 627h1v1h-1zM509 628h1v1h-1zM510 629h1v1h-1zM511 630h3v1h-3zM514 629h15v1h-15zM529 628h6v1h-6zM535 627h2v1h-2zM537 626h2v1h-2zM539 625h1v1h-1zM540 624h2v1h-2zM542 623h2v1h-2zM544 624h2v1h-2zM546 625h1v1h-1zM547 626h2v1h-2zM549 627h2v1h-2zM551 628h2v1h-2zM553 629h2v1h-2zM555 630h2v1h-2zM557 631h1v1h-1zM558 632h2v1h-2zM560 631h4v1h-4zM564 630h6v1h-6zM570 631h4v1h-4zM574 632h1v1h-1zM575 631h2v1h-2zM577 630h2v1h-2zM579 629h1v1h-1zM580 628h2v1h-2zM582 627h6v1h-6zM588 628h4v1h-4zM592 627h3v1h-3zM595 626h3v1h-3zM598 625h18v1h-18zM616 626h3v1h-3zM619 627h3v1h-3zM622 628h6v1h-6zM628 629h6v1h-6zM634 630h3v1h-3zM637 631h5v1h-5zM642 632h5v1h-5zM647 633h2v1h-2zM649 634h2v1h-2zM651 635h2v1h-2zM653 636h1v1h-1zM654 637h2v1h-2zM656 636h4v1h-4zM660 635h8v1h-8zM668 636h4v1h-4zM672 637h3v1h-3zM675 638h3v1h-3zM678 639h4v1h-4zM682 640h5v1h-5zM687 641h2v1h-2zM689 642h3v1h-3zM692 643h2v1h-2zM694 644h2v1h-2zM696 643h2v1h-2zM698 642h2v1h-2zM700 641h2v1h-2zM702 640h6v1h-6zM708 641h6v1h-6zM714 640h5v1h-5zM719 639h2v1h-2zM721 638h2v1h-2zM723 637h1v1h-1zM724 636h2v1h-2zM726 635h2v1h-2zM728 634h2v1h-2zM730 633h2v1h-2zM732 632h2v1h-2zM734 631h2v1h-2zM736 632h2v1h-2zM738 633h2v1h-2zM740 634h2v1h-2zM742 635h2v1h-2zM744 634h4v1h-4zM748 633h5v1h-5zM753 634h3v1h-3zM756 635h2v1h-2zM758 636h2v1h-2zM760 635h2v1h-2zM762 634h2v1h-2zM764 633h2v1h-2zM766 632h2v1h-2zM768 631h5v1h-5zM773 630h3v1h-3zM776 629h3v1h-3zM779 628h3v1h-3zM782 627h2v1h-2zM784 626h1v1h-1zM785 625h1v1h-1zM786 624h1v1h-1zM787 623h2v1h-2zM789 622h1v1h-1zM790 621h1v1h-1zM791 620h1v1h-1zM792 619h1v1h-1zM793 618h1v1h-1zM794 617h1v1h-1zM795 616h1v1h-1zM796 615h1v1h-1zM797 614h1v1h-1zM798 613h9v1h-9zM807 614h2v1h-2zM809 615h2v1h-2zM811 616h2v1h-2zM813 617h3v1h-3zM816 616h1v1h-1zM817 615h2v1h-2zM819 614h1v1h-1zM820 613h1v1h-1zM821 612h1v1h-1zM822 611h2v1h-2zM824 612h2v1h-2zM826 613h2v1h-2zM828 614h2v1h-2zM830 615h6v1h-6zM836 616h8v1h-8zM844 617h4v1h-4zM848 616h5v1h-5zM853 615h11v1h-11zM864 614h2v1h-2zM866 613h2v1h-2zM868 612h2v1h-2zM870 611h2v1h-2zM872 610h2v1h-2zM874 609h2v1h-2zM876 608h3v1h-3zM879 607h3v1h-3zM882 606h3v1h-3zM885 605h11v1h-11zM896 604h2v1h-2zM898 603h2v1h-2zM900 602h2v1h-2zM902 601h2v1h-2zM904 600h3v1h-3zM907 599h2v1h-2zM909 598h3v1h-3zM912 597h2v1h-2zM914 596h2v1h-2zM916 595h3v1h-3zM919 594h8v1h-8zM927 595h2v1h-2zM929 596h2v1h-2zM931 597h1v1h-1zM932 598h2v1h-2zM934 599h2v1h-2zM936 600h1v1h-1zM937 601h1v1h-1zM938 602h1v1h-1zM939 603h1v1h-1zM940 604h1v1h-1zM941 605h1v1h-1zM942 606h2v1h-2zM944 607h1v1h-1zM945 608h2v1h-2zM947 609h2v1h-2zM949 610h1v1h-1zM950 611h2v1h-2zM952 610h4v1h-4zM956 609h6v1h-6zM962 610h4v1h-4zM966 611h1v1h-1zM967 610h2v1h-2zM969 609h2v1h-2zM971 608h1v1h-1zM972 607h2v1h-2zM974 606h4v1h-4zM978 607h6v1h-6zM984 606h2v1h-2zM986 605h2v1h-2zM988 604h1v1h-1zM989 603h2v1h-2zM991 602h2v1h-2zM993 601h2v1h-2zM995 600h1v1h-1zM996 599h2v1h-2zM998 598h18v1h-18zM1016 599h3v1h-3zM1019 600h2v1h-2zM1021 601h5v1h-5zM1026 600h3v1h-3zM1029 599h10v1h-10zM1039 600h1v1h-1zM1040 601h1v2h-1zM1041 603h1v2h-1zM1042 605h1v1h-1zM1043 606h1v2h-1zM1044 608h1v1h-1zM1045 609h1v2h-1zM1046 611h1v1h-1zM1047 612h2v1h-2zM1049 613h2v1h-2zM1051 614h3v1h-3zM1054 615h2v1h-2zM1056 614h3v1h-3zM1059 613h2v1h-2zM1061 612h4v1h-4zM1065 611h7v1h-7zM1072 612h1v1h-1zM1073 613h1v1h-1zM1074 614h1v1h-1zM1075 615h1v1h-1zM1076 616h2v1h-2zM1078 617h1v1h-1zM1079 618h3v1h-3zM1082 619h4v1h-4zM1086 620h1v1h-1zM1087 619h1v1h-1zM1088 618h1v1h-1zM1089 616h1v2h-1zM1090 615h1v1h-1zM1091 614h1v1h-1zM1092 612h1v2h-1zM1093 611h1v1h-1zM1094 610h7v1h-7zM1101 611h6v1h-6zM1107 612h4v1h-4zM1111 613h2v1h-2zM1113 614h1v1h-1zM1114 615h1v1h-1zM1115 616h1v1h-1zM1116 617h1v1h-1zM1117 618h1v1h-1zM1118 619h3v1h-3zM1121 620h6v1h-6zM1127 621h3v1h-3zM1130 622h3v1h-3zM1133 623h2v1h-2zM1135 624h2v1h-2zM1137 625h1v1h-1zM1138 626h2v1h-2zM1140 627h1v1h-1zM1141 628h2v1h-2zM1143 629h8v1h-8zM1151 630h1v1h-1zM1152 631h1v1h-1zM1153 632h1v1h-1zM1154 633h1v1h-1zM1155 634h1v1h-1zM1156 635h1v1h-1zM1157 636h1v1h-1zM1158 637h1v1h-1zM1159 638h1v1h-1zM1160 637h1v1h-1zM1161 636h2v1h-2zM1163 635h2v1h-2zM1165 634h7v1h-7zM1172 635h3v1h-3z" fill="#1e90ff" />
</g>
<g shape-rendering="crispEdges">
<rect x="1194" y="33" width="2" height="1" fill="#000"/>
<rect x="1194" y="66" width="2" height="1" fill="#000"/>
<rect x="1194" y="99" width="2" height="1" fill="#000"/>
<rect x="1194" y="132" width="2" height="1" fill="#000"/>
<rect x="1194" y="165" width="2" height="1" fill="#000"/>
<rect x="1194" y="198" width="2" height="1" fill="#000"/>
<rect x="1194" y="231" width="2" height="1" fill="#000"/>
<rect x="1194" y="264" width="2" height="1" fill="#000"/>
<rect x="1194" y="297" width="2" height="1" fill="#000"/>
<rect x="1194" y="330" width="2" height="1" fill="#000"/>
<rect x="1194" y="363" width="2" height="1" fill="#000"/>
<rect x="1194" y="396" width="2" height="1" fill="#000"/>
<rect x="1194" y="429" width="2" height="1" fill="#000"/>
<rect x="1194" y="462" width="2" height="1" fill="#000"/>
</g>
<text x="1199.2" y="37.0" font-size="10" fill="#000" stroke="#000" stroke-width="0.18" transform="translate(1199.2 37.0) scale(0.8930 1) translate(-1199.2 -37.0)">129.810</text>
<text x="1199.2" y="70.0" font-size="10" fill="#000" stroke="#000" stroke-width="0.18" transform="translate(1199.2 70.0) scale(0.8930 1) translate(-1199.2 -70.0)">126.750</text>
<text x="1199.2" y="103.0" font-size="10" fill="#000" stroke="#000" stroke-width="0.18" transform="translate(1199.2 103.0) scale(0.8930 1) translate(-1199.2 -103.0)">123.600</text>
<text x="1199.2" y="136.0" font-size="10" fill="#000" stroke="#000" stroke-width="0.18" transform="translate(1199.2 136.0) scale(0.8930 1) translate(-1199.2 -136.0)">120.450</text>
<text x="1199.2" y="169.0" font-size="10" fill="#000" stroke="#000" stroke-width="0.18" transform="translate(1199.2 169.0) scale(0.8930 1) translate(-1199.2 -169.0)">117.390</text>
<text x="1199.2" y="202.0" font-size="10" fill="#000" stroke="#000" stroke-width="0.18" transform="translate(1199.2 202.0) scale(0.8930 1) translate(-1199.2 -202.0)">114.240</text>
<text x="1199.2" y="235.0" font-size="10" fill="#000" stroke="#000" stroke-width="0.18" transform="translate(1199.2 235.0) scale(0.8930 1) translate(-1199.2 -235.0)">111.090</text>
<text x="1199.2" y="268.0" font-size="10" fill="#000" stroke="#000" stroke-width="0.18" transform="translate(1199.2 268.0) scale(0.8930 1) translate(-1199.2 -268.0)">108.030</text>
<text x="1199.2" y="301.0" font-size="10" fill="#000" stroke="#000" stroke-width="0.18" transform="translate(1199.2 301.0) scale(0.8930 1) translate(-1199.2 -301.0)">104.880</text>
<text x="1199.2" y="334.0" font-size="10" fill="#000" stroke="#000" stroke-width="0.18" transform="translate(1199.2 334.0) scale(0.8930 1) translate(-1199.2 -334.0)">101.730</text>
<text x="1199.2" y="367.0" font-size="10" fill="#000" stroke="#000" stroke-width="0.18" transform="translate(1199.2 367.0) scale(0.8930 1) translate(-1199.2 -367.0)">98.670</text>
<text x="1199.2" y="400.0" font-size="10" fill="#000" stroke="#000" stroke-width="0.18" transform="translate(1199.2 400.0) scale(0.8930 1) translate(-1199.2 -400.0)">95.520</text>
<text x="1199.2" y="433.0" font-size="10" fill="#000" stroke="#000" stroke-width="0.18" transform="translate(1199.2 433.0) scale(0.8930 1) translate(-1199.2 -433.0)">92.370</text>
<text x="1199.2" y="466.0" font-size="10" fill="#000" stroke="#000" stroke-width="0.18" transform="translate(1199.2 466.0) scale(0.8930 1) translate(-1199.2 -466.0)">89.310</text>
<rect x="1194" y="468" width="1" height="2" fill="#000"/>
<text x="1196.5" y="478.0" font-size="10" fill="#000" stroke="#000" stroke-width="0.18" transform="translate(1196.5 478.0) scale(0.8930 1) translate(-1196.5 -478.0)">6.0651</text>
<text x="1196.5" y="525.0" font-size="10" fill="#000" stroke="#000" stroke-width="0.18" transform="translate(1196.5 525.0) scale(0.8930 1) translate(-1196.5 -525.0)">0.00</text>
<text x="1196.5" y="562.0" font-size="10" fill="#000" stroke="#000" stroke-width="0.18" transform="translate(1196.5 562.0) scale(0.8930 1) translate(-1196.5 -562.0)">-5.0609</text>
<rect x="1194" y="521" width="1" height="1" fill="#000"/>
<rect x="1194" y="564" width="1" height="1" fill="#000"/>
<text x="1197" y="578.0" font-size="10" fill="#000" stroke="#000" stroke-width="0.18" transform="translate(1197 578.0) scale(0.8930 1) translate(-1197 -578.0)">100</text>
<text x="1195.5" y="602.0" font-size="10" fill="#000" stroke="#000" stroke-width="0.18" transform="translate(1195.5 602.0) scale(0.8930 1) translate(-1195.5 -602.0)">70</text>
<text x="1195.5" y="642.0" font-size="10" fill="#000" stroke="#000" stroke-width="0.18" transform="translate(1195.5 642.0) scale(0.8930 1) translate(-1195.5 -642.0)">30</text>
<text x="1196.6" y="666.0" font-size="10" fill="#000" stroke="#000" stroke-width="0.18" transform="translate(1196.6 666.0) scale(0.8930 1) translate(-1196.6 -666.0)">0</text>
<rect x="1194" y="568" width="1" height="1" fill="#000"/>
<rect x="1194" y="668" width="1" height="1" fill="#000"/>
<rect x="1196" y="301" width="39" height="11" fill="#000"/>
<text x="1199.2" y="310.0" font-size="10" fill="#fff" stroke="#fff" stroke-width="0.18" transform="translate(1199.2 310.0) scale(0.8930 1) translate(-1199.2 -310.0)">103.988</text>
<rect x="1196" y="184" width="39" height="11" fill="#ff0000"/>
<text x="1199.2" y="193.0" font-size="10" fill="#fff" stroke="#fff" stroke-width="0.18" transform="translate(1199.2 193.0) scale(0.8930 1) translate(-1199.2 -193.0)">115.000</text>
<rect x="1196" y="242" width="39" height="11" fill="#ff0000"/>
<text x="1199.2" y="251.0" font-size="10" fill="#fff" stroke="#fff" stroke-width="0.18" transform="translate(1199.2 251.0) scale(0.8930 1) translate(-1199.2 -251.0)">109.500</text>
<rect x="1196" y="295" width="39" height="11" fill="#00cc00"/>
<text x="1199.2" y="304.0" font-size="10" fill="#fff" stroke="#fff" stroke-width="0.18" transform="translate(1199.2 304.0) scale(0.8930 1) translate(-1199.2 -304.0)">104.500</text>
<rect x="1196" y="343" width="39" height="11" fill="#3c52e0"/>
<text x="1199.2" y="352.0" font-size="10" fill="#fff" stroke="#fff" stroke-width="0.18" transform="translate(1199.2 352.0) scale(0.8930 1) translate(-1199.2 -352.0)">100.000</text>
<rect x="1196" y="401" width="34" height="11" fill="#3c52e0"/>
<text x="1199.2" y="410.0" font-size="10" fill="#fff" stroke="#fff" stroke-width="0.18" transform="translate(1199.2 410.0) scale(0.8930 1) translate(-1199.2 -410.0)">94.500</text>
<rect x="6" y="670" width="1" height="3" fill="#000"/>
<text x="4.5" y="682.0" font-size="10" fill="#000" stroke="#000" stroke-width="0.18" transform="translate(4.5 682.0) scale(0.9243 1) translate(-4.5 -682.0)">23 Feb 2022</text>
<rect x="70" y="670" width="1" height="3" fill="#000"/>
<text x="68.5" y="682.0" font-size="10" fill="#000" stroke="#000" stroke-width="0.18" transform="translate(68.5 682.0) scale(0.9243 1) translate(-68.5 -682.0)">24 Feb 20:00</text>
<rect x="134" y="670" width="1" height="3" fill="#000"/>
<text x="132.5" y="682.0" font-size="10" fill="#000" stroke="#000" stroke-width="0.18" transform="translate(132.5 682.0) scale(0.9243 1) translate(-132.5 -682.0)">28 Feb 00:00</text>
<rect x="198" y="670" width="1" height="3" fill="#000"/>
<text x="196.5" y="682.0" font-size="10" fill="#000" stroke="#000" stroke-width="0.18" transform="translate(196.5 682.0) scale(0.9243 1) translate(-196.5 -682.0)">1 Mar 08:00</text>
<rect x="262" y="670" width="1" height="3" fill="#000"/>
<text x="260.5" y="682.0" font-size="10" fill="#000" stroke="#000" stroke-width="0.18" transform="translate(260.5 682.0) scale(0.9243 1) translate(-260.5 -682.0)">2 Mar 16:00</text>
<rect x="326" y="670" width="1" height="3" fill="#000"/>
<text x="324.5" y="682.0" font-size="10" fill="#000" stroke="#000" stroke-width="0.18" transform="translate(324.5 682.0) scale(0.9243 1) translate(-324.5 -682.0)">4 Mar 00:00</text>
<rect x="390" y="670" width="1" height="3" fill="#000"/>
<text x="388.5" y="682.0" font-size="10" fill="#000" stroke="#000" stroke-width="0.18" transform="translate(388.5 682.0) scale(0.9243 1) translate(-388.5 -682.0)">7 Mar 04:00</text>
<rect x="454" y="670" width="1" height="3" fill="#000"/>
<text x="452.5" y="682.0" font-size="10" fill="#000" stroke="#000" stroke-width="0.18" transform="translate(452.5 682.0) scale(0.9243 1) translate(-452.5 -682.0)">8 Mar 12:00</text>
<rect x="518" y="670" width="1" height="3" fill="#000"/>
<text x="516.5" y="682.0" font-size="10" fill="#000" stroke="#000" stroke-width="0.18" transform="translate(516.5 682.0) scale(0.9243 1) translate(-516.5 -682.0)">9 Mar 20:00</text>
<rect x="582" y="670" width="1" height="3" fill="#000"/>
<text x="580.5" y="682.0" font-size="10" fill="#000" stroke="#000" stroke-width="0.18" transform="translate(580.5 682.0) scale(0.9243 1) translate(-580.5 -682.0)">11 Mar 04:00</text>
<rect x="646" y="670" width="1" height="3" fill="#000"/>
<text x="644.5" y="682.0" font-size="10" fill="#000" stroke="#000" stroke-width="0.18" transform="translate(644.5 682.0) scale(0.9243 1) translate(-644.5 -682.0)">14 Mar 08:00</text>
<rect x="710" y="670" width="1" height="3" fill="#000"/>
<text x="708.5" y="682.0" font-size="10" fill="#000" stroke="#000" stroke-width="0.18" transform="translate(708.5 682.0) scale(0.9243 1) translate(-708.5 -682.0)">15 Mar 16:00</text>
<rect x="774" y="670" width="1" height="3" fill="#000"/>
<text x="772.5" y="682.0" font-size="10" fill="#000" stroke="#000" stroke-width="0.18" transform="translate(772.5 682.0) scale(0.9243 1) translate(-772.5 -682.0)">17 Mar 00:00</text>
<rect x="838" y="670" width="1" height="3" fill="#000"/>
<text x="836.5" y="682.0" font-size="10" fill="#000" stroke="#000" stroke-width="0.18" transform="translate(836.5 682.0) scale(0.9243 1) translate(-836.5 -682.0)">18 Mar 08:00</text>
<rect x="902" y="670" width="1" height="3" fill="#000"/>
<text x="900.5" y="682.0" font-size="10" fill="#000" stroke="#000" stroke-width="0.18" transform="translate(900.5 682.0) scale(0.9243 1) translate(-900.5 -682.0)">21 Mar 12:00</text>
<rect x="966" y="670" width="1" height="3" fill="#000"/>
<text x="964.5" y="682.0" font-size="10" fill="#000" stroke="#000" stroke-width="0.18" transform="translate(964.5 682.0) scale(0.9243 1) translate(-964.5 -682.0)">22 Mar 20:00</text>
<rect x="1030" y="670" width="1" height="3" fill="#000"/>
<text x="1028.5" y="682.0" font-size="10" fill="#000" stroke="#000" stroke-width="0.18" transform="translate(1028.5 682.0) scale(0.9243 1) translate(-1028.5 -682.0)">24 Mar 04:00</text>
<rect x="1094" y="670" width="1" height="3" fill="#000"/>
<text x="1092.5" y="682.0" font-size="10" fill="#000" stroke="#000" stroke-width="0.18" transform="translate(1092.5 682.0) scale(0.9243 1) translate(-1092.5 -682.0)">25 Mar 12:00</text>
<rect x="1158" y="670" width="1" height="3" fill="#000"/>
<text x="1156.5" y="682.0" font-size="10" fill="#000" stroke="#000" stroke-width="0.18" transform="translate(1156.5 682.0) scale(0.9243 1) translate(-1156.5 -682.0)">28 Mar 16:00</text>
<path d="M9 11h7l-3.5 4z" fill="#000"/>
<text x="20.5" y="16.3" font-size="10" fill="#000" stroke="#000" stroke-width="0.18" transform="translate(20.5 16.3) scale(0.9689 1) translate(-20.5 -16.3)">USOil-,H4</text>
<text x="70.5" y="16.3" font-size="10" fill="#000" stroke="#000" stroke-width="0.18" transform="translate(70.5 16.3) scale(0.8930 1) translate(-70.5 -16.3)">104.277</text>
<text x="106.5" y="16.3" font-size="10" fill="#000" stroke="#000" stroke-width="0.18" transform="translate(106.5 16.3) scale(0.8930 1) translate(-106.5 -16.3)">104.310</text>
<text x="142.5" y="16.3" font-size="10" fill="#000" stroke="#000" stroke-width="0.18" transform="translate(142.5 16.3) scale(0.8930 1) translate(-142.5 -16.3)">103.830</text>
<text x="178.5" y="16.3" font-size="10" fill="#000" stroke="#000" stroke-width="0.18" transform="translate(178.5 16.3) scale(0.8930 1) translate(-178.5 -16.3)">103.988</text>
<text x="9.5" y="480.0" font-size="10" fill="#000" stroke="#000" stroke-width="0.18" transform="translate(9.5 480.0) scale(0.9377 1) translate(-9.5 -480.0)">MACD(12,26,9)</text>
<text x="78.5" y="480.0" font-size="10" fill="#000" stroke="#000" stroke-width="0.18" transform="translate(78.5 480.0) scale(0.8930 1) translate(-78.5 -480.0)">-1.2618</text>
<text x="112.5" y="480.0" font-size="10" fill="#000" stroke="#000" stroke-width="0.18" transform="translate(112.5 480.0) scale(0.8930 1) translate(-112.5 -480.0)">0.0758</text>
<text x="9.5" y="580.0" font-size="10" fill="#000" stroke="#000" stroke-width="0.18" transform="translate(9.5 580.0) scale(0.9243 1) translate(-9.5 -580.0)">RSI(14) 33.6372</text>
<text x="700.6" y="127.5" font-size="34.7" fill="#ff0000" textLength="174.5" lengthAdjust="spacing" style='font-family:"Liberation Sans","Noto Sans CJK SC",sans-serif'>多空转折点</text>
<text x="872.2" y="127" font-size="37" fill="#ff0000" textLength="88.5" lengthAdjust="spacingAndGlyphs">104.5</text>
</svg></body></html>
